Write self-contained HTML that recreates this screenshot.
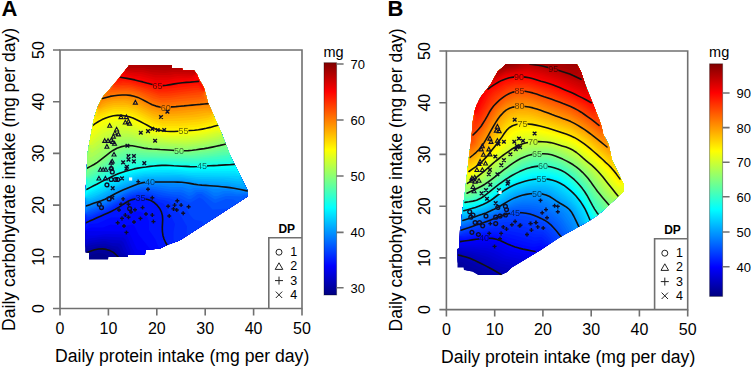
<!DOCTYPE html>
<html><head><meta charset="utf-8"><style>
html,body{margin:0;padding:0;background:#fff;width:751px;height:370px;overflow:hidden}
svg{display:block}
text{font-family:"Liberation Sans",sans-serif;fill:#000}
.tk{font-size:16px}
.ti{font-size:17.6px}
.dp{font-size:12px;font-weight:bold}
.lg{font-size:12.5px}
.cb{font-size:13px}
.mg{font-size:14.5px}
.pl{font-size:22px;font-weight:bold}
.cl{font-size:9px;fill:#000;opacity:.6}
</style></head><body>
<svg width="751" height="370" viewBox="0 0 751 370">
<defs><filter id="bl" x="-20%" y="-20%" width="140%" height="140%"><feGaussianBlur stdDeviation="0.45"/></filter></defs>
<text x="1.6" y="16.3" class="pl">A</text>
<text x="387.6" y="16.2" class="pl">B</text>
<text x="55" y="362.4" class="ti">Daily protein intake (mg per day)</text>
<text x="441" y="363" class="ti">Daily protein intake (mg per day)</text>
<text transform="translate(14.6 331) rotate(-90)" class="ti">Daily carbohydrate intake (mg per day)</text>
<text transform="translate(401.5 331.5) rotate(-90)" class="ti">Daily carbohydrate intake (mg per day)</text>
<defs><clipPath id="ca"><path d="M129.9 65 171.5 65 171.5 68.1 182.3 68.1 182.3 70.8 194.2 70.8 197.4 74.5 199.6 81 203.9 87.4 208.2 102.6 214.7 117.7 222.3 135 230 155 240.2 175 247.8 190.1 247.8 196.7 178.8 241.2 170 244 163 247 160 248.5 145 250.5 145 254.5 127.5 254.5 127.5 257 108 257 108 259.8 89.4 259.8 89.4 252.6 85.9 252.6 85.9 200 87.5 155 89.3 145.5 91.5 133 94.3 119 97.8 108 102 98.2 107.5 91.5 114 84.5 120.5 76.5Z"/></clipPath></defs>
<defs><clipPath id="cb"><path d="M506.9 64.2 576.9 64.2 578.9 67.2 581 72.6 583 78.6 585 84.7 592.4 101.6 601 125.4 603.6 135 608.6 144.8 612.2 160 617.9 171.4 623.6 184.6 624 191.3 614.1 200.7 598.9 214.9 589.6 220.6 580 226.3 561.4 236.8 539.8 250.9 520.3 262.8 510.3 268.8 507.1 272 502.2 274.4 500.6 275.2 478.7 275.2 473.1 272 464.2 270.4 464.2 268 457.9 267.6 457.9 249.1 459.8 249.1 460 241 460.4 230 461.5 224.6 462.4 215.1 463.8 204.3 465.1 193.5 466 185 467.2 175.5 468.5 164.7 469.9 153.9 471.5 140 472.4 130.5 473.4 121.1 475.1 110.3 477.8 103.5 481.2 97.4 486 90 491.4 84 494 78 498.1 71.9 502.8 67.8Z"/></clipPath></defs>
<path fill="#00008d" d="M194 70.5 182.5 70.5 182 68 172 68 171.5 65 129.5 65 117.5 80.5 102 98 97.5 107.5 94 118.5 87.5 153.5 85.5 194.5 85.5 252.5 89 253 89 259.5 108 259.5 108.5 257 127.5 257 128 254.5 145 254.5 145.5 250 160 248.5 168 244.5 179.5 240.5 247.5 196.5 247.5 190 230 155.5 222 134.5 208 103 204 88 200 82 197 74.5Z"/>
<path fill="#000099" d="M194 70.5 182.5 70.5 182 68 172 68 171.5 65 129.5 65 117.5 80.5 102 98 97.5 107.5 94 118.5 87.5 153.5 85.5 194.5 85.5 252.5 89 253 89 257 92 254.5 98 253 104 253.5 109 257 127.5 257 128 254.5 145 254.5 145.5 250 160 248.5 168 244.5 179.5 240.5 247.5 196.5 247.5 190 230 155.5 222 134.5 208 103 204 88 200 82 197 74.5Z"/>
<path fill="#0000a6" d="M194 70.5 182.5 70.5 182 68 172 68 171.5 65 129.5 65 117.5 80.5 102 98 97.5 107.5 94 118.5 87.5 153.5 85.5 194.5 85.5 251.5 89 251.5 97 249 105 249 112.5 252 117.5 257 127.5 257 128 254.5 145 254.5 145.5 250 160 248.5 168 244.5 179.5 240.5 247.5 196.5 247.5 190 230 155.5 222 134.5 208 103 204 88 200 82 197 74.5Z"/>
<path fill="#0000b2" d="M194 70.5 182.5 70.5 182 68 172 68 171.5 65 129.5 65 117.5 80.5 102 98 97.5 107.5 94 118.5 87.5 153.5 85.5 194.5 85.5 247.5 89.5 248.5 99.5 246 107.5 246.5 115.5 249.5 120.5 255.5 127.5 257 128 254.5 145 254.5 145.5 250 160 248.5 168 244.5 179.5 240.5 247.5 196.5 247.5 190 230 155.5 222 134.5 208 103 204 88 200 82 197 74.5Z"/>
<path fill="#0000be" d="M194 70.5 182.5 70.5 182 68 172 68 171.5 65 129.5 65 117.5 80.5 102 98 97.5 107.5 94 118.5 87.5 153.5 85.5 194.5 85.5 246.5 94.5 244.5 105.5 243.5 112.5 246 117.5 246.5 119.5 248.5 121.5 253 126.5 255.5 127.5 257 128 254.5 145 254.5 145.5 250 160 248.5 168 244.5 179.5 240.5 247.5 196.5 247.5 190 230 155.5 222 134.5 208 103 204 88 200 82 197 74.5Z"/>
<path fill="#0000ca" d="M194 70.5 182.5 70.5 182 68 172 68 171.5 65 129.5 65 117.5 80.5 102 98 97.5 107.5 94 118.5 87.5 153.5 85.5 194.5 85.5 245.5 90.5 243 105 241 111.5 243 119.5 243.5 121.5 245.5 123.5 251 127.5 255.5 128 254.5 145 254.5 145.5 250 160 248.5 168 244.5 179.5 240.5 247.5 196.5 247.5 190 230 155.5 222 134.5 208 103 204 88 200 82 197 74.5Z"/>
<path fill="#0000d7" d="M171.5 65 129.5 65 115 83.5 103.5 96 100 102 93.5 120.5 87.5 153.5 85.5 194.5 85.5 244 89 241 102 239 121.5 240.5 123.5 242.5 128.5 254.5 145 254.5 145.5 250 160 248.5 168 244.5 179.5 240.5 247.5 196.5 247.5 190 230 155.5 222 134.5 208 103 204 88 200 82 197 74.5 194 70.5 182.5 70.5 182 68 172 68Z"/>
<path fill="#0000e3" d="M171.5 65 129.5 65 115 83.5 103.5 96 100 102 93.5 120.5 87.5 153.5 85.5 194.5 85.5 239 104 236.5 123.5 237.5 125.5 239.5 131 252 130 254.5 145 254.5 145.5 250 160 248.5 168 244.5 179.5 240.5 247.5 196.5 247.5 190 230 155.5 222 134.5 208 103 204 88 200 82 197 74.5 194 70.5 182.5 70.5 182 68 172 68Z"/>
<path fill="#0000ef" d="M171.5 65 129.5 65 117.5 80.5 102 98 97.5 107.5 93.5 120.5 87.5 153.5 85.5 194.5 85.5 232.5 88 235.5 96 235.5 106 234 125.5 234.5 127.5 236.5 132 248 134.5 252 134.5 253.5 133 254.5 145 254.5 145.5 250 160 248.5 168 244.5 179.5 240.5 247.5 196.5 247.5 190 230 155.5 222 134.5 208 103 204 88 200 82 197 74.5 194 70.5 182.5 70.5 182 68 172 68Z"/>
<path fill="#0000fb" d="M171.5 65 129.5 65 117.5 80.5 103.5 96 100 102 93.5 120.5 87.5 153.5 85.5 194.5 85.5 231 127.5 231.5 130 234 137 249.5 140.5 250.5 142 252 141.5 254.5 145 254.5 145.5 250 160 248.5 168 244.5 179.5 240.5 247.5 196.5 247.5 190 230 155.5 222 134.5 208 103 204 88 200 82 197 74.5 194 70.5 182.5 70.5 182 68 172 68Z"/>
<path fill="#0009ff" d="M129.5 65 117.5 80.5 102 98 97.5 107.5 94 118.5 87.5 153.5 85.5 194.5 85.5 230 91 227.5 103 227.5 110.5 224.5 123.5 226 132.5 224.5 134.5 226 138.5 234.5 150.5 249.5 160 248.5 168 244.5 179.5 240.5 247.5 196.5 247.5 190 230 155.5 222 134.5 208 103 204 88 194.5 71 182.5 70.5 182 68 172 68 171.5 65Z"/>
<path fill="#0015ff" d="M129.5 65 117.5 80.5 102 98 97.5 107.5 94 118.5 87.5 153.5 85.5 194.5 85.5 228 89.5 224 97.5 223.5 111 217.5 121 217.5 131.5 211.5 139.5 211.5 143 213 147.5 217.5 149 221.5 149 230 155.5 239.5 159 248.5 168 244.5 179.5 240.5 247.5 196.5 247.5 190 230 155.5 222 134.5 208 103 204 88 194.5 71 182.5 70.5 182 68 172 68 171.5 65Z"/>
<path fill="#0021ff" d="M129.5 65 117.5 80.5 102 98 97.5 107.5 94 118.5 87.5 153.5 85.5 194.5 85.5 222 93 220 113.5 211 131.5 200.5 136 199.5 146.5 200 155.5 204.5 159 208 161 212 162.5 218 162 229.5 163 235.5 166 244 167.5 245 179.5 240.5 247.5 196.5 247.5 190 230 155.5 222 134.5 208 103 204 88 194.5 71 182.5 70.5 182 68 172 68 171.5 65Z"/>
<path fill="#002dff" d="M129.5 65 117.5 80.5 102 98 97.5 107.5 94 118.5 87.5 153.5 85.5 194.5 85.5 218 87 219.5 90 219 111.5 209.5 126 200.5 133 197.5 146.5 197 150.5 198 156 201 163.5 203.5 166 206.5 168 212 170 214 175 224 173.5 232 173.5 239 174.5 242 179.5 240.5 247.5 196.5 247.5 190 230 155.5 222 134.5 208 103 204 88 194.5 71 182.5 70.5 182 68 172 68 171.5 65Z"/>
<path fill="#003aff" d="M129.5 65 117.5 80.5 102 98 97.5 107.5 94 118.5 87.5 153.5 85.5 194.5 85.5 215.5 87 217.5 90.5 217 108 209.5 124 200 133 196 139 195 148.5 195.5 159 199.5 164 200 170 202 172.5 206 178 211 187 226.5 186.5 234 188 235 247.5 196.5 247.5 190 230 155.5 222 134.5 208 103 204 88 194.5 71 182.5 70.5 182 68 172 68 171.5 65Z"/>
<path fill="#0046ff" d="M129.5 65 117.5 80.5 102 98 97.5 107.5 94 118.5 87.5 153.5 85.5 194.5 85.5 214.5 88.5 216 104.5 209.5 130.5 195.5 139 193.5 147 193.5 154 195 158.5 197 169.5 198.5 176.5 200.5 186 208 190 215 194 219.5 202.5 221.5 203.5 225 247.5 196.5 247.5 190 230 155.5 222 134.5 208 103 204 88 194.5 71 182.5 70.5 182 68 172 68 171.5 65Z"/>
<path fill="#0052ff" d="M129.5 65 117.5 80.5 102 98 97.5 107.5 94 118.5 87.5 153.5 85.5 194.5 85.5 214 88 214.5 104.5 208 129.5 194.5 139 192 149.5 192 163 195.5 178.5 197.5 188.5 202.5 191 202.5 199.5 197.5 203 199.5 212.5 209.5 229 208.5 247.5 196.5 247.5 190 230 155.5 222 134.5 208 103 204 88 194.5 71 182.5 70.5 182 68 172 68 171.5 65Z"/>
<path fill="#005eff" d="M129.5 65 117.5 80.5 102 98 97.5 107.5 94 118.5 87.5 153.5 85.5 194.5 85.5 213.5 104.5 206.5 127.5 194 133 192 143.5 190 151.5 190.5 172 194.5 180.5 195 188 199 191 199 198 194 201.5 194 213.5 202.5 215.5 203 226 199 233.5 199.5 238 202.5 247.5 196.5 247.5 190 230 155.5 222 134.5 208 103 204 88 194.5 71 182.5 70.5 182 68 172 68 171.5 65Z"/>
<path fill="#006bff" d="M129.5 65 117.5 80.5 102 98 97.5 107.5 94 118.5 87.5 153.5 85.5 194.5 85.5 213 90.5 210 104.5 205 124.5 194 135 190 142 188.5 150.5 188.5 171 192 179 192 183.5 193 189 196 192.5 195 196.5 192 202.5 192 215 199.5 226 196 241 196.5 244 195 247.5 195.5 247.5 190 230 155.5 222 134.5 208 103 204 88 194.5 71 182.5 70.5 182 68 172 68 171.5 65Z"/>
<path fill="#0077ff" d="M129.5 65 117.5 80.5 102 98 97.5 107.5 94 118.5 87.5 153.5 85.5 212 89 209 104.5 203.5 126 192 141.5 187 155 187 170.5 189.5 181 189.5 188.5 192.5 191 192.5 195 190 202.5 190 206.5 191 214 196 217.5 196 224.5 193.5 232.5 193.5 236.5 194.5 245 193.5 247.5 194.5 247.5 190 230 155.5 222 134.5 208 103 204 88 194.5 71 182.5 70.5 182 68 172 68 171.5 65Z"/>
<path fill="#0083ff" d="M129.5 65 117.5 80.5 102 98 97.5 107.5 94 118.5 87.5 153.5 85.5 211 88 208 104.5 202 124 191.5 137 186.5 144.5 185 161 185.5 170.5 187 182.5 187 190 189.5 193.5 188 206 188.5 213.5 192.5 219 192.5 223 191 229.5 191 237 192.5 245.5 192.5 247.5 193.5 247.5 190 230 155.5 222 134.5 208 103 204 88 194.5 71 182.5 70.5 182 68 172 68 171.5 65Z"/>
<path fill="#008fff" d="M129.5 65 117.5 80.5 102 98 97.5 107.5 94 118.5 87.5 153.5 85.5 209 88.5 206 104.5 200.5 126.5 189 143.5 183.5 184 184.5 189 186 195 185.5 205.5 186.5 213 189 230 189 240 191 245 191 247.5 192.5 247.5 190 230 155.5 222 134.5 208 103 204 88 194.5 71 182.5 70.5 182 68 172 68 171.5 65Z"/>
<path fill="#009cff" d="M102 98 97.5 107.5 94 118.5 87.5 153.5 85.5 205 103 199.5 123 189 134 184.5 147.5 181.5 183 182 198.5 184.5 227.5 186.5 247 189.5 230 155.5 222 134.5 208 103 204 88 200 82 197 74.5 194 70.5 182.5 70.5 182 68 172 68 171.5 65 129.5 65 117.5 80.5Z"/>
<path fill="#00a8ff" d="M102 98 97.5 107.5 94 118.5 87.5 153.5 85.5 201.5 87 203 102.5 198 121.5 188 135 182.5 146 180 181.5 180 197 182.5 229.5 184.5 243.5 187 244.5 186 244.5 184 230 155.5 222 134.5 208 103 204 88 200 82 197 74.5 194 70.5 182.5 70.5 182 68 172 68 171.5 65 129.5 65 117.5 80.5Z"/>
<path fill="#00b4ff" d="M102 98 97.5 107.5 94 118.5 87.5 153.5 85.5 199.5 87 201 89.5 201 100.5 197 117.5 188 132 182 145.5 178.5 183.5 178.5 195.5 180.5 227 182 238.5 184 242.5 183.5 242.5 180 230 155.5 222 134.5 208 103 204 88 200 82 197 74.5 194 70.5 182.5 70.5 182 68 172 68 171.5 65 129.5 65 117.5 80.5Z"/>
<path fill="#00c0ff" d="M102 98 97.5 107.5 94 118.5 87.5 153.5 85.5 194.5 86 199 89 199.5 93.5 198 122.5 184 137.5 178.5 145.5 177 177 176.5 199.5 179 223 179.5 238 181.5 241 181 241.5 178 230 155.5 222 134.5 208 103 204 88 200 82 197 74.5 194 70.5 182.5 70.5 182 68 172 68 171.5 65 129.5 65 117.5 80.5Z"/>
<path fill="#00cdff" d="M102 98 97.5 107.5 94 118.5 87.5 153.5 85.5 198 89 198 99 194 125.5 181 137 177 145 175.5 179.5 175 196.5 177 227.5 177.5 238 179 241 177 230 155.5 222 134.5 208 103 204 88 200 82 197 74.5 194 70.5 182.5 70.5 182 68 172 68 171.5 65 129.5 65 117.5 80.5Z"/>
<path fill="#00d9ff" d="M102 98 97.5 107.5 94 118.5 87.5 153.5 85.5 197.5 102.5 190.5 118.5 182 136.5 175.5 145 174 168 173 193 175 240.5 176 230 155.5 222 134.5 208 103 204 88 200 82 197 74.5 194 70.5 182.5 70.5 182 68 172 68 171.5 65 129.5 65 117.5 80.5Z"/>
<path fill="#00e5ff" d="M102 98 97.5 107.5 94 118.5 87.5 153.5 85.5 197 88 195 119 180 136 174 144.5 172.5 172.5 171.5 189.5 173 236 173.5 240 175.5 230 155.5 222 134.5 208 103 204 88 200 82 197 74.5 194 70.5 182.5 70.5 182 68 172 68 171.5 65 129.5 65 117.5 80.5Z"/>
<path fill="#00f2ff" d="M102 98 97.5 107.5 94 118.5 87.5 153.5 85.5 196 88.5 193 117 179 132 173.5 141 171.5 154.5 170 176 170 192 171.5 235 171 239.5 174 230 155.5 222 134.5 208 103 204 88 200 82 197 74.5 194 70.5 182.5 70.5 182 68 172 68 171.5 65 129.5 65 117.5 80.5Z"/>
<path fill="#00feff" d="M85.5 195 88 191.5 114 178.5 131.5 172 140.5 170 160.5 168 187 169.5 234 168.5 236 169 238 171 230 155.5 222 134.5 208 103 204 88 200 82 197 74.5 194 70.5 182.5 70.5 182 68 172 68 171.5 65 129.5 65 117.5 80.5 102 98 97.5 107.5 93.5 120.5 87.5 153.5Z"/>
<path fill="#0bfff4" d="M86 191.5 87.5 190 119 174.5 140 168.5 157.5 166.5 170.5 166.5 189.5 168 222 166.5 236 167 230 155.5 222 134.5 208 103 204 88 200 82 197 74.5 194 70.5 182.5 70.5 182 68 172 68 171.5 65 129.5 65 117.5 80.5 102 98 97.5 107.5 93.5 120.5 87.5 153.5Z"/>
<path fill="#17ffe8" d="M86 188 89 187.5 120.5 172 139 167 155.5 165 202 166 234 164 208 103 204 88 200 82 197 74.5 194 70.5 182.5 70.5 182 68 172 68 171.5 65 129.5 65 117.5 80.5 102 98 97.5 107.5 93.5 120.5 87.5 153.5Z"/>
<path fill="#24ffdb" d="M86.5 183.5 88 185.5 90 185 117.5 171 128.5 167 136 165.5 154 163.5 198 164.5 233 161.5 208 103 204 88 200 82 197 74.5 194 70.5 182.5 70.5 182 68 172 68 171.5 65 129.5 65 117.5 80.5 102 98 97.5 107.5 93.5 120.5 87.5 153.5Z"/>
<path fill="#30ffcf" d="M86.5 180 88.5 183 91 182.5 116.5 169 131 164 159.5 161.5 195 163 230.5 160 231.5 159 222 134.5 208 103 204 88 200 82 197 74.5 194 70.5 182.5 70.5 182 68 172 68 171.5 65 129.5 65 117.5 80.5 102 98 97.5 107.5 93.5 120.5 87.5 153.5Z"/>
<path fill="#3cffc3" d="M86.5 179 88.5 180.5 90.5 180.5 122 164 131.5 161.5 156 160 191 161.5 225 158.5 230.5 157 222 134.5 208 103 204 88 200 82 197 74.5 194 70.5 182.5 70.5 182 68 172 68 171.5 65 129.5 65 117.5 80.5 102 98 97.5 107.5 93.5 120.5 87.5 153.5Z"/>
<path fill="#48ffb7" d="M86.5 178.5 90.5 178.5 120.5 162 128.5 159.5 152 158.5 197 159.5 229.5 155.5 230 154.5 222 134.5 208 103 204 88 194.5 71 182.5 70.5 182 68 172 68 171.5 65 129.5 65 115 83.5 103.5 96 97.5 107.5 93.5 120.5 87.5 153.5Z"/>
<path fill="#55ffaa" d="M86.5 177.5 88.5 177.5 100 171.5 119 160 128.5 157 194.5 158 229.5 154 222 134.5 208 103 204 88 194.5 71 182.5 70.5 182 68 172 68 171.5 65 129.5 65 115 83.5 103.5 96 97.5 107.5 93.5 120.5 87.5 153.5Z"/>
<path fill="#61ff9e" d="M86.5 177 115 159.5 126 155 135 154.5 146 155.5 192.5 156.5 211 154.5 224 152 229 152.5 208 103 204 88 194.5 71 182.5 70.5 182 68 172 68 171.5 65 129.5 65 115 83.5 103.5 96 97.5 107.5 93.5 120.5 87.5 153.5Z"/>
<path fill="#6dff92" d="M86.5 176.5 89.5 172.5 100 167 113 158 119.5 154.5 126 152.5 190.5 155 208.5 153 224 150 227 150 228.5 151 208 103 204 88 194.5 71 182.5 70.5 182 68 172 68 171.5 65 129.5 65 115 83.5 103.5 96 97.5 107.5 93.5 120.5 87.5 153.5Z"/>
<path fill="#79ff86" d="M86.5 175 87.5 172.5 90 170 98 166 115 154 126 150 134.5 150 149 152 188.5 153.5 209.5 151 223.5 148 227.5 148.5 208 103 204 88 194.5 71 182.5 70.5 182 68 172 68 171.5 65 129.5 65 115 83.5 103.5 96 97.5 107.5 93.5 120.5 87.5 153.5Z"/>
<path fill="#86ff79" d="M87 170.5 89 168.5 99 163 114.5 151.5 126 147.5 132.5 147.5 146.5 150 186.5 152 207.5 149.5 223 146 226.5 146 208 103 204 88 194.5 71 182.5 70.5 182 68 172 68 171.5 65 129.5 65 115 83.5 103.5 96 97.5 107.5 93.5 120.5 87.5 153.5Z"/>
<path fill="#92ff6d" d="M87 166.5 89.5 166 96.5 162 114.5 148.5 125.5 145 131.5 145 150.5 148.5 173 150 190 150 211 147 225.5 143.5 208 103 204 88 194.5 71 182.5 70.5 182 68 172 68 171.5 65 129.5 65 115 83.5 103.5 96 97.5 107.5 93.5 120.5 87.5 153.5Z"/>
<path fill="#9eff61" d="M87.5 157 89 161.5 91 161.5 98.5 157 112 146.5 122.5 142.5 131.5 142.5 150 146.5 185 148.5 213.5 144.5 223.5 142 224 139.5 208 103 204 88 200 82 197 74.5 194 70.5 182.5 70.5 182 68 172 68 171.5 65 129.5 65 115 83.5 103.5 96 100 102 93.5 120.5Z"/>
<path fill="#aaff55" d="M88.5 148 89.5 157 91 157.5 97 154 111.5 143 121.5 139.5 129.5 139.5 142.5 143 155 145 186 146.5 206 144 221.5 140.5 223 139 223 137 208 103 204 88 200 82 197 74.5 194 70.5 182.5 70.5 182 68 172 68 171.5 65 129.5 65 115 83.5 103.5 96 100 102 94 118.5Z"/>
<path fill="#b7ff48" d="M89 146.5 90.5 152 92 153 108.5 141 120.5 136.5 131 137 142 140.5 155 143 186 144.5 203 142.5 219.5 139 221.5 137.5 222 134.5 208 103 204 88 200 82 197 74.5 194 70.5 182.5 70.5 182 68 172 68 171.5 65 129.5 65 115 83.5 103.5 96 100 102 93.5 120.5Z"/>
<path fill="#c3ff3c" d="M89 145.5 91.5 148.5 93 148.5 109 137 119 133.5 127.5 133.5 149 140 171.5 142.5 186 142.5 200 141 219 137 222 134.5 208 103 204 88 200 82 197 74.5 194 70.5 182.5 70.5 182 68 172 68 171.5 65 129.5 65 117.5 80.5 102 98 97.5 107.5 94 118.5Z"/>
<path fill="#cfff30" d="M89 145 92.5 145 106 135 118 130.5 127 130.5 150 138 169 140.5 186 140.5 196.5 139.5 213 136.5 220.5 134.5 221.5 133.5 208 103 204 88 200 82 197 74.5 194 70.5 182.5 70.5 182 68 172 68 171.5 65 129.5 65 117.5 80.5 102 98 97.5 107.5 94 118.5Z"/>
<path fill="#dbff24" d="M89.5 144 90.5 144 95 139 104 132.5 116.5 127.5 129 128 150.5 136 166.5 138.5 186.5 138.5 203.5 136.5 217.5 133 221.5 133.5 208 103 204 88 200 82 197 74.5 194 70.5 182.5 70.5 182 68 172 68 171.5 65 129.5 65 117.5 80.5 102 98 97.5 107.5 94 118.5Z"/>
<path fill="#e8ff17" d="M89.5 143.5 92 138 101 130.5 110 126 119 124 130.5 125.5 151.5 134 165 136.5 192.5 136 208.5 133.5 217 131 221 132.5 208 103 204 88 200 82 197 74.5 194 70.5 182.5 70.5 182 68 172 68 171.5 65 129.5 65 117.5 80.5 102 98 97.5 107.5 94 118.5Z"/>
<path fill="#f4ff0b" d="M90.5 138.5 92.5 133.5 100.5 127 107.5 123.5 117 121 122.5 121 130.5 122.5 150.5 131.5 163.5 134.5 173.5 135 192.5 134 208.5 131.5 217 129 220.5 131 208 103 204 88 200 82 197 74.5 194 70.5 182.5 70.5 182 68 172 68 171.5 65 129.5 65 117.5 80.5 102 98 97.5 107.5 94 118.5Z"/>
<path fill="#fffe00" d="M92 130 95.5 126.5 101 123 107.5 120 115.5 118 128.5 119 154 130.5 168 133 197.5 131.5 217 127 219 127.5 208 103 204 88 200 82 197 74.5 194 70.5 182.5 70.5 182 68 172 68 171.5 65 129.5 65 117.5 80.5 102 98 96 112Z"/>
<path fill="#fff200" d="M93 123.5 94 124 103.5 118.5 110.5 116 121 115 131 117 152 127.5 163 130.5 175.5 131 196.5 129.5 205.5 128 217.5 124.5 208 103 204 88 194.5 71 182.5 70.5 182 68 172 68 171.5 65 129.5 65 117.5 80.5 102 98 97.5 107.5Z"/>
<path fill="#ffe500" d="M94.5 117 94.5 119.5 96.5 120 109.5 114 114 113 124 113 133.5 115.5 153 125.5 165 128.5 179 128.5 197.5 127 214 123.5 215.5 122 215.5 119.5 208 103 204 88 194.5 71 182.5 70.5 182 68 172 68 171.5 65 129.5 65 117.5 80.5 102 98 97.5 107.5Z"/>
<path fill="#ffd900" d="M96.5 110.5 96.5 117 111.5 111.5 124.5 111 134 113.5 154 123.5 164 126 179 126 197.5 124.5 212.5 121.5 214 120 214 116 208 103 204 88 194.5 71 182.5 70.5 182 68 172 68 171.5 65 129.5 65 117.5 80.5 102 98Z"/>
<path fill="#ffcd00" d="M97 109 98 114 114 109 128.5 109.5 137 112.5 153.5 121 163 123.5 179 123.5 200.5 121.5 212 119 213.5 115.5 208 103 204 88 194.5 71 182.5 70.5 182 68 172 68 171.5 65 129.5 65 117.5 80.5 102 98Z"/>
<path fill="#ffc000" d="M97 109 99 111.5 100.5 111.5 105.5 109 114 107 126.5 107 135.5 109.5 153 118.5 162 121 179 121 197 119.5 209 117.5 213 114.5 208 103 204 88 194.5 71 182.5 70.5 182 68 172 68 171.5 65 129.5 65 117.5 80.5 102 98Z"/>
<path fill="#ffb400" d="M97 109 100.5 109.5 104 107.5 114 105 127 105 136 107.5 154 116.5 166 119 196.5 117 209.5 115 213 113.5 208 103 204 88 194.5 71 182.5 70.5 182 68 172 68 171.5 65 129.5 65 117.5 80.5 102 98Z"/>
<path fill="#ffa800" d="M97.5 107.5 97.5 108.5 99.5 108.5 107 104.5 114 103 123 102.5 135.5 105 153.5 114 164.5 116.5 191 115 207.5 112.5 212.5 113 208 103 204 88 194.5 71 182.5 70.5 182 68 172 68 171.5 65 129.5 65 115 83.5 103.5 96Z"/>
<path fill="#ff9c00" d="M97.5 107.5 99 107.5 102 104.5 107 102.5 114 101 124.5 100.5 135 102.5 150.5 110.5 162.5 114 179 113.5 204.5 110.5 209.5 110.5 212.5 112.5 208 103 204 88 194.5 71 182.5 70.5 182 68 172 68 171.5 65 129.5 65 115 83.5 103.5 96Z"/>
<path fill="#ff8f00" d="M98 106.5 98.5 107 102 102.5 105 101 114 99 125.5 98.5 137 101 150 108 161 111.5 173 111.5 208.5 108 211.5 110.5 208 103 204 88 194.5 71 182.5 70.5 182 68 172 68 171.5 65 129.5 65 115 83.5 103.5 96Z"/>
<path fill="#ff8300" d="M100 102 103.5 99.5 111 97.5 126.5 96.5 137.5 99 149.5 105.5 160 109 173.5 109 207.5 105.5 210 107 207.5 101.5 204 88 194.5 71 182.5 70.5 182 68 172 68 171.5 65 129.5 65 115 83.5 103.5 96Z"/>
<path fill="#ff7700" d="M103.5 96 103.5 97 120.5 94.5 130.5 95 139 97.5 153.5 105 162 107 196 104.5 208 102.5 204 88 194.5 71 182.5 70.5 182 68 172 68 171.5 65 129.5 65 115 83.5Z"/>
<path fill="#ff6b00" d="M106.5 93 107 94.5 118 93 132 93.5 137.5 95 151.5 102 159.5 104.5 171 104.5 202.5 101.5 205.5 100.5 206 99.5 204 88 194.5 71 182.5 70.5 182 68 172 68 171.5 65 129.5 65Z"/>
<path fill="#ff5e00" d="M109 91 109.5 92 126 91 135 92.5 153 100.5 160.5 102.5 168 102.5 203 99 204 98 204 94 205 93 204 88 200 82 197 74.5 194 70.5 182.5 70.5 182 68 172 68 171.5 65 129.5 65Z"/>
<path fill="#ff5200" d="M111 88.5 111.5 90 127.5 89.5 139 92 153.5 98.5 162.5 100.5 201 97 205 92 203 86 194 70.5 182.5 70.5 182 68 172 68 171.5 65 129.5 65Z"/>
<path fill="#ff4600" d="M112 86.5 113 88 116 88.5 129 88 134 89 159.5 98 169 98 182 96 200.5 94.5 205 91.5 197 74.5 194 70.5 182.5 70.5 182 68 172 68 171.5 65 129.5 65Z"/>
<path fill="#ff3a00" d="M113 85.5 114 86.5 118 87 122.5 86 132.5 87 160.5 96 166.5 96 204.5 91.5 204 88 200 82 197 74.5 194 70.5 182.5 70.5 182 68 172 68 171.5 65 129.5 65Z"/>
<path fill="#ff2d00" d="M113.5 85 130.5 85 142.5 88 158 93.5 169 93.5 197 90 204.5 91 203 86 194 70.5 182.5 70.5 182 68 172 68 171.5 65 129.5 65Z"/>
<path fill="#ff2100" d="M114.5 84 116.5 83 120.5 83.5 123 82.5 131.5 83.5 159 91.5 167 91.5 193.5 88 199 88 202.5 90.5 204.5 90.5 204 88 200 82 197 74.5 194 70.5 182.5 70.5 182 68 172 68 171.5 65 129.5 65Z"/>
<path fill="#ff1500" d="M116 82 122.5 81 129.5 81.5 159.5 89.5 197 85.5 199 86 202.5 89.5 204.5 90 198.5 79 197 74.5 194 70.5 182.5 70.5 182 68 172 68 171.5 65 129.5 65Z"/>
<path fill="#ff0900" d="M118 79.5 121 80 124 79 130.5 80 157 87 167.5 87 181.5 84.5 198 83.5 204 89 198.5 79 197 74.5 194 70.5 182.5 70.5 182 68 172 68 171.5 65 129.5 65Z"/>
<path fill="#fb0000" d="M120 77 136.5 79.5 157.5 85 165.5 85 179 82.5 194.5 81.5 199 80 197 74.5 194 70.5 182.5 70.5 182 68 172 68 171.5 65 129.5 65Z"/>
<path fill="#ef0000" d="M123 73 123 74.5 125.5 76 139 78 156 82.5 167 82.5 177 80.5 193.5 79.5 197 75 194 70.5 182.5 70.5 182 68 172 68 171.5 65 129.5 65Z"/>
<path fill="#e30000" d="M124 72 125.5 74 135.5 76 140 76 155.5 80 168 80 175 78.5 191 78 196.5 74.5 194 70.5 182.5 70.5 182 68 172 68 171.5 65 129.5 65Z"/>
<path fill="#d70000" d="M125 70.5 126.5 72.5 141 74 155.5 77.5 169.5 77.5 177.5 76 187 76.5 192 76 196 74 194 70.5 182.5 70.5 182 68 172 68 171.5 65 129.5 65Z"/>
<path fill="#ca0000" d="M125 70.5 135 72 142 72 155 75 170.5 75 174.5 74 193 74.5 196 73 194 70.5 182.5 70.5 182 68 172 68 171.5 65 129.5 65Z"/>
<path fill="#be0000" d="M126 69.5 143 70 151 72 165 73 172 72 195.5 72.5 194 70.5 182.5 70.5 182 68 172 68 171.5 65 129.5 65Z"/>
<path fill="#b20000" d="M127 68 144 68 150.5 69.5 165 70.5 182 69.5 182 68 172 68 171.5 65 129.5 65Z"/>
<path fill="#a60000" d="M138.5 65 141 66 155.5 67.5 171.5 67.5 171.5 65Z"/>
<path fill="#00009a" d="M576.5 64 506.5 64 497.5 72 491.5 83.5 480.5 97.5 475 109.5 472.5 123.5 471.5 141.5 469.5 152 466 187 462 213.5 461.5 225 460 229.5 459.5 248.5 457.5 249 457.5 267.5 463.5 267.5 464 270 472.5 271.5 478.5 275 500.5 275 507 272 512 267 540.5 250 560.5 236.5 588 221.5 598.5 214.5 624 191 623.5 184 612 160.5 608.5 144.5 603 134 599.5 120.5 585 85 581 72Z"/>
<path fill="#0000a2" d="M576.5 64 506.5 64 497.5 72 491.5 83.5 480.5 97.5 475 109.5 473 120 471.5 141.5 469.5 152 466 187 462 213.5 461.5 225 460 229.5 459.5 248.5 457.5 249 457.5 262.5 464 267 466.5 270.5 472.5 271.5 478.5 275 500.5 275 507 272 512 267 540.5 250 560.5 236.5 588 221.5 598.5 214.5 624 191 623.5 184 612 160.5 608.5 144.5 603 134 599.5 120.5 585 85 581 72Z"/>
<path fill="#0000a9" d="M576.5 64 506.5 64 497.5 72 491.5 83.5 480.5 97.5 475 109.5 472.5 123.5 471.5 141.5 469.5 152 466 187 462 213.5 461.5 225 460 229.5 459.5 248.5 457.5 249 457.5 261.5 462.5 262 468 266 481 271.5 484.5 275 500.5 275 507 272 512 267 540.5 250 560.5 236.5 588 221.5 598.5 214.5 624 191 623.5 184 612 160.5 608.5 144.5 603 134 599.5 120.5 585 85 581 72Z"/>
<path fill="#0000b1" d="M576.5 64 506.5 64 497.5 72 491.5 83.5 480.5 97.5 475 109.5 472.5 123.5 471.5 141.5 469.5 152 466 187 462 213.5 461.5 225 460 229.5 459.5 248.5 457.5 249 457.5 260 459.5 258.5 465 259.5 478 266.5 489 270.5 492.5 272.5 494.5 275 500.5 275 507 272 512 267 540.5 250 560.5 236.5 588 221.5 598.5 214.5 624 191 623.5 184 612 160.5 608.5 144.5 603 134 599.5 120.5 585 85 581 72Z"/>
<path fill="#0000b9" d="M576.5 64 506.5 64 497.5 72 491.5 83.5 480.5 97.5 475 109.5 473 120 471.5 141.5 469.5 152 466 187 462 213.5 461.5 225 460 229.5 459.5 248.5 457.5 249 457.5 255.5 465 256.5 473 259.5 493.5 269.5 500.5 275 507 272 512 267 540.5 250 560.5 236.5 588 221.5 598.5 214.5 624 191 623.5 184 612 160.5 608.5 144.5 603 134 599.5 120.5 585 85 581 72Z"/>
<path fill="#0000c0" d="M576.5 64 506.5 64 497.5 72 491.5 83.5 480.5 97.5 475 109.5 472.5 123.5 471.5 141.5 469.5 152 466 187 462 213.5 461.5 225 460 229.5 459.5 248.5 457.5 249 457.5 251.5 458.5 253 472 256.5 479.5 259.5 498 269 503 270.5 508.5 270 512 267 540.5 250 560.5 236.5 588 221.5 598.5 214.5 624 191 623.5 184 612 160.5 608.5 144.5 603 134 599.5 120.5 585 85 581 72Z"/>
<path fill="#0000c8" d="M576.5 64 506.5 64 497.5 72 491.5 83.5 480.5 97.5 475 109.5 472.5 123.5 471.5 141.5 469.5 152 466 187 462 213.5 461.5 225 460 229.5 459.5 248.5 457.5 249 460 252 474 255 489 260.5 500 266.5 510 268.5 540.5 250 560.5 236.5 588 221.5 598.5 214.5 624 191 623.5 184 612 160.5 608.5 144.5 603 134 599.5 120.5 585 85 581 72Z"/>
<path fill="#0000d0" d="M576.5 64 506.5 64 497.5 72 491.5 83.5 480.5 97.5 475 109.5 472.5 123.5 471.5 141.5 469.5 152 466 187 462 213.5 461.5 225 460 229.5 459.5 248.5 458 249 460 250.5 474.5 253 488 257 500.5 263.5 509.5 265.5 511 268 540.5 250 560.5 236.5 588 221.5 598.5 214.5 624 191 623.5 184 612 160.5 608.5 144.5 603 134 599.5 120.5 585 85 581 72Z"/>
<path fill="#0000d7" d="M576.5 64 506.5 64 497.5 72 491.5 83.5 480.5 97.5 475 109.5 472.5 123.5 471.5 141.5 469.5 152 466 187 462 213.5 461.5 225 460 229.5 460 249 486.5 253.5 501 260.5 512.5 263 514 264.5 513.5 266.5 540.5 250 560.5 236.5 588 221.5 598.5 214.5 624 191 623.5 184 612 160.5 608.5 144.5 603 134 599.5 120.5 585 85 581 72Z"/>
<path fill="#0000df" d="M576.5 64 506.5 64 497.5 72 491.5 83.5 480.5 97.5 475 109.5 472.5 123.5 471.5 141.5 469.5 152 466 187 462 213.5 461.5 225 460 229.5 460 248 476.5 249 485.5 250.5 493.5 253 504 258.5 515.5 260.5 520 262.5 560.5 236.5 588 221.5 598.5 214.5 624 191 623.5 184 612 160.5 608.5 144.5 603 134 599.5 120.5 585 85 581 72Z"/>
<path fill="#0000e7" d="M576.5 64 506.5 64 497.5 72 491.5 83.5 480.5 97.5 475 109.5 472.5 123.5 471.5 141.5 469.5 152 466 187 462 213.5 461.5 225 460 229.5 459.5 247 468.5 246.5 487 248 495 250.5 506 256 520 259 525.5 259 560.5 236.5 588 221.5 598.5 214.5 624 191 623.5 184 612 160.5 608.5 144.5 603 134 599.5 120.5 585 85 581 72Z"/>
<path fill="#0000ee" d="M576.5 64 506.5 64 497.5 72 491.5 83.5 480.5 97.5 475 109.5 472.5 123.5 471.5 141.5 469.5 152 466 187 462 213.5 461.5 225 460 229.5 459.5 246 462 245 488.5 245.5 496.5 248 508 253.5 526.5 257 527.5 258 560.5 236.5 588 221.5 598.5 214.5 624 191 623.5 184 612 160.5 608.5 144.5 603 134 599.5 120.5 585 85 581 72Z"/>
<path fill="#0000f6" d="M576.5 64 506.5 64 497.5 72 491.5 83.5 480.5 97.5 475 109.5 472.5 123.5 471.5 141.5 469.5 152 466 187 462 213.5 461.5 225 460 229.5 460 244.5 462 243.5 490 243 497 245 510 251 526.5 254.5 529 257 560.5 236.5 588 221.5 598.5 214.5 624 191 623.5 184 612 160.5 608.5 144.5 603 134 599.5 120.5 585 85 581 72Z"/>
<path fill="#0000fd" d="M576.5 64 506.5 64 497.5 72 491.5 83.5 480.5 97.5 475 109.5 472.5 123.5 471.5 141.5 469.5 152 466 187 462 213.5 461.5 225 460 229.5 460 243 462.5 242 477.5 240.5 491.5 240.5 498.5 242.5 510 248 531 253 532 254 530.5 256 560.5 236.5 588 221.5 598.5 214.5 624 191 623.5 184 612 160.5 608.5 144.5 603 134 599.5 120.5 585 85 581 72Z"/>
<path fill="#0006ff" d="M506.5 64 497.5 72 491.5 83.5 480.5 97.5 475 109.5 472.5 123.5 471.5 141.5 469.5 152 466 187 462 213.5 461.5 225 460 229.5 460 241 483.5 238 492 238 499.5 240 510.5 245 529.5 250 534.5 250 538 248.5 542 249 560.5 236.5 588 221.5 598.5 214.5 624 191 623.5 184 612 160.5 608.5 144.5 603 134 601 124.5 585 85 581 72 577 64.5Z"/>
<path fill="#000eff" d="M506.5 64 497.5 72 491.5 83.5 480.5 97.5 475 109.5 472.5 123.5 471.5 141.5 469.5 152 466 187 462 213.5 461.5 225 460 229.5 460 239 465 239.5 481.5 236.5 492.5 236 500 237.5 510 241.5 528.5 246.5 535 247 540 245.5 544 247 560.5 236.5 588 221.5 598.5 214.5 624 191 623.5 184 612 160.5 608.5 144.5 603 134 601 124.5 585 85 581 72 577 64.5Z"/>
<path fill="#0015ff" d="M506.5 64 497.5 72 491.5 83.5 480.5 97.5 475 109.5 472.5 123.5 471.5 141.5 469.5 152 466 187 462 213.5 461.5 225 460 229.5 460 237.5 463.5 238.5 485 234.5 497 234.5 533 244 541 243 543.5 245 548 245 560.5 236.5 588 221.5 598.5 214.5 624 191 623.5 184 612 160.5 608.5 144.5 603 134 601 124.5 585 85 581 72 577 64.5Z"/>
<path fill="#001dff" d="M506.5 64 497.5 72 491.5 83.5 480.5 97.5 475 109.5 472.5 123.5 471.5 141.5 469.5 152 466 187 462 213.5 461.5 225 460 229.5 460 236.5 465 237 488 232.5 499.5 232.5 513 235 535 241 541.5 240 545.5 243.5 548.5 244.5 560.5 236.5 588 221.5 598.5 214.5 624 191 623.5 184 612 160.5 608.5 144.5 603 134 601 124.5 585 85 581 72 577 64.5Z"/>
<path fill="#0025ff" d="M506.5 64 497.5 72 491.5 83.5 480.5 97.5 475 109.5 472.5 123.5 471.5 141.5 469.5 152 466 187 462 213.5 461.5 225 460 229.5 460 236 464 236 490.5 230.5 506 230.5 520 233 534.5 237.5 541.5 237 549.5 244 560.5 236.5 588 221.5 598.5 214.5 624 191 623.5 184 612 160.5 608.5 144.5 603 134 601 124.5 585 85 581 72 577 64.5Z"/>
<path fill="#002cff" d="M506.5 64 497.5 72 491.5 83.5 480.5 97.5 475 109.5 472.5 123.5 471.5 141.5 469.5 152 466 187 462 213.5 461.5 225 460 229.5 460 235.5 488.5 229 496.5 228 510.5 228 520.5 229.5 536.5 234.5 542.5 234.5 547.5 238.5 550 243.5 560.5 236.5 588 221.5 598.5 214.5 624 191 623.5 184 612 160.5 608.5 144.5 603 134 601 124.5 585 85 581 72 577 64.5Z"/>
<path fill="#0034ff" d="M506.5 64 497.5 72 491.5 83.5 480.5 97.5 475 109.5 472.5 123.5 471.5 141.5 469.5 152 466 187 462 213.5 461.5 225 460 229.5 460 235 465 233 492.5 226.5 502.5 225 514 225 525.5 227 538 231.5 543 231.5 551 239 551 243 560.5 236.5 588 221.5 598.5 214.5 624 191 623.5 184 612 160.5 608.5 144.5 603 134 601 124.5 585 85 581 72 577 64.5Z"/>
<path fill="#003cff" d="M506.5 64 497.5 72 491.5 83.5 480.5 97.5 475 109.5 472.5 123.5 471.5 141.5 469.5 152 468.5 166 460 234 466 231.5 497 223.5 505.5 222 517.5 222 528 224 545 229.5 553.5 238.5 552 242.5 560.5 236.5 588 221.5 598.5 214.5 624 191 623.5 184 612 160.5 608.5 144.5 603 134 601 124.5 585 85 581 72 577 64.5Z"/>
<path fill="#0043ff" d="M506.5 64 497.5 72 491.5 83.5 480.5 97.5 475 109.5 472.5 123.5 471.5 141.5 469.5 152 468.5 166 460 233 463.5 231 498 221 507 219 516.5 218.5 530.5 221 546 227 555.5 237 556 238.5 555 240.5 560.5 236.5 588 221.5 598.5 214.5 624 191 623.5 184 612 160.5 608.5 144.5 603 134 601 124.5 585 85 581 72 577 64.5Z"/>
<path fill="#004bff" d="M506.5 64 497.5 72 491.5 83.5 480.5 97.5 475 109.5 472.5 123.5 471.5 141.5 469.5 152 466 187 462 213.5 461.5 225 460 232 463 230 502 217.5 511 215.5 521.5 215.5 529.5 217 545.5 223.5 554.5 232 558 236.5 558 238.5 588 221.5 598.5 214.5 624 191 623.5 184 612 160.5 608.5 144.5 603 134 601 124.5 585 85 581 72 577 64.5Z"/>
<path fill="#0052ff" d="M506.5 64 497.5 72 491.5 83.5 480.5 97.5 475 109.5 472.5 123.5 471.5 141.5 469.5 152 466 187 462 213.5 461.5 225 460 229.5 475 225.5 507 214 514.5 212.5 522.5 212.5 534 215 545.5 220.5 555.5 229.5 561 236.5 588 221.5 601.5 212 624 191 623.5 184 612 160.5 608.5 144.5 603 134 601 124.5 585 85 581 72 577 64.5Z"/>
<path fill="#005aff" d="M506.5 64 497.5 72 491.5 83.5 480.5 97.5 475 109.5 472.5 123.5 471.5 141.5 469.5 152 466 187 462 213.5 461.5 225 460.5 227.5 465.5 227.5 508.5 212 516.5 210.5 524 210.5 537 213.5 546 218 551 221.5 563.5 235 588 221.5 601.5 212 624 191 623.5 184 612 160.5 608.5 144.5 603 134 601 124.5 585 85 581 72 577 64.5Z"/>
<path fill="#0062ff" d="M506.5 64 497.5 72 491.5 83.5 480.5 97.5 475 109.5 472.5 123.5 471.5 141.5 469.5 152 461 226.5 464 227 486.5 219.5 509 210.5 516 209 528.5 209 538.5 211.5 548 216.5 556.5 223.5 564.5 233.5 566.5 233.5 588 221.5 601.5 212 624 191 623.5 184 612 160.5 608.5 144.5 603 134 601 124.5 585 85 581 72 577 64.5Z"/>
<path fill="#0069ff" d="M506.5 64 497.5 72 491.5 83.5 480.5 97.5 475 109.5 472.5 123.5 471.5 141.5 469.5 152 468.5 166 461 225.5 464 226 484 219.5 511.5 208.5 520.5 207 528 207 538.5 209 547.5 213.5 554 218 559.5 223.5 563.5 229.5 566 232 568 232.5 588 221.5 601.5 212 624 191 623.5 184 612 160.5 608.5 144.5 603 134 601 124.5 585 85 581 72 577 64.5Z"/>
<path fill="#0071ff" d="M506.5 64 497.5 72 491.5 83.5 480.5 97.5 475 109.5 472.5 123.5 471.5 141.5 469.5 152 466 187 462 213.5 461.5 225 464.5 225 481.5 219.5 510.5 207.5 519 205.5 527.5 205 538 206.5 548.5 211.5 556.5 217 561 221.5 566.5 230 569 232 588 221.5 601.5 212 624 191 623.5 184 612 160.5 608.5 144.5 603 134 601 124.5 585 85 581 72 577 64.5Z"/>
<path fill="#0079ff" d="M506.5 64 497.5 72 491.5 83.5 480.5 97.5 475 109.5 472.5 123.5 471.5 141.5 469.5 152 466 187 462 213.5 461.5 224.5 486 217 514 205 521.5 203.5 534.5 203.5 543.5 206 558.5 215.5 562.5 219.5 570 231.5 588 221.5 598.5 214.5 624 191 623.5 184 612 160.5 609 146 603 134 599.5 120.5 585 85 581 72 576.5 64Z"/>
<path fill="#0080ff" d="M506.5 64 497.5 72 491.5 83.5 480.5 97.5 475 109.5 472.5 123.5 471.5 141.5 469.5 152 466 187 462 213.5 461.5 224 487.5 215.5 514 203.5 523.5 201.5 536 201.5 542.5 203 547.5 205.5 560.5 214 570.5 228 571 231 588 221.5 598.5 214.5 624 191 623.5 184 612 160.5 608.5 144.5 603 134 601 124.5 585 85 581 72 576.5 64Z"/>
<path fill="#0088ff" d="M506.5 64 497.5 72 491.5 83.5 480.5 97.5 475 109.5 472.5 123.5 471.5 141.5 469.5 152 461.5 223 486.5 215 515.5 201.5 525 199.5 537.5 199.5 547 202.5 563 213 571 224.5 572.5 228 572 230.5 598.5 214.5 624 191 623.5 184 612 160.5 608.5 144.5 603 134 601 124.5 585 85 581 72 576.5 64Z"/>
<path fill="#0090ff" d="M506.5 64 497.5 72 491.5 83.5 480.5 97.5 475 109.5 472.5 123.5 471.5 141.5 469.5 152 461.5 222.5 488 213.5 514 200.5 523 198 533 197 545 199 563 210 568 215 574 226 574 228.5 573 230 598.5 214.5 624 191 623.5 184 612 160.5 608.5 144.5 603 134 601 124.5 585 85 581 72 576.5 64Z"/>
<path fill="#0097ff" d="M506.5 64 497.5 72 491.5 83.5 480.5 97.5 475 109.5 472.5 123.5 471.5 141.5 469.5 152 468.5 166 461.5 221 487 213 516.5 198 527 195.5 536.5 195 547.5 197.5 565 208.5 570.5 214.5 576 225 576.5 228 598.5 214.5 624 191 623.5 184 612 160.5 608.5 144.5 603 134 601 124.5 585 85 581 72 576.5 64Z"/>
<path fill="#009fff" d="M506.5 64 497.5 72 491.5 83.5 480.5 97.5 475 109.5 472.5 123.5 471.5 141.5 469.5 152 466 187 462 213.5 462 219.5 466.5 219 487 212 499.5 206 508 200.5 519.5 195.5 529 193.5 541.5 193.5 551 197 566.5 207 572.5 214 579 226.5 598.5 214.5 624 191 623.5 184 612 160.5 608.5 144.5 603 134 601 124.5 585 85 581 72 576.5 64Z"/>
<path fill="#00a6ff" d="M506.5 64 497.5 72 491.5 83.5 480.5 97.5 475 109.5 472.5 123.5 471.5 141.5 469.5 152 462 218 465 218.5 486 211.5 496.5 206.5 515.5 195.5 526 192.5 539.5 191.5 547 193 552 195.5 568.5 206.5 573.5 212.5 579 224 581.5 225 588 221.5 601.5 212 624 191 623.5 184 612 160.5 608.5 144.5 603 134 601 124.5 585 85 581 72 576.5 64Z"/>
<path fill="#00aeff" d="M506.5 64 497.5 72 491.5 83.5 480.5 97.5 475 109.5 472.5 123.5 471.5 141.5 469.5 152 468.5 166 462 216.5 465 217.5 485 211 494.5 206.5 509.5 197 516 194 526.5 191 540 190 550 192.5 566.5 203 573.5 210 579.5 222 581 223.5 583.5 224 601.5 212 624 191 623.5 184 612 160.5 608.5 144.5 603 134 601 124.5 585 85 581 72 576.5 64Z"/>
<path fill="#00b6ff" d="M506.5 64 497.5 72 491.5 83.5 480.5 97.5 475 109.5 472.5 123.5 471.5 141.5 469.5 152 468.5 166 462 216 465.5 216.5 488.5 208.5 515 193 527 189.5 540 188.5 549.5 190.5 567 201.5 574.5 209 581 222 584.5 223.5 601.5 212 624 191 623.5 184 612 160.5 608.5 144.5 603 134 601 124.5 585 85 581 72 576.5 64Z"/>
<path fill="#00bdff" d="M506.5 64 497.5 72 491.5 83.5 480.5 97.5 475 109.5 472.5 123.5 471.5 141.5 469.5 152 468.5 166 462 215 467.5 215 487.5 208 497.5 202.5 507.5 195.5 515.5 191.5 528 188 539.5 187 547 188 553.5 190.5 570 202 575.5 208 582 221 584.5 223.5 601.5 212 624 191 623.5 184 612 160.5 608.5 144.5 603 134 601 124.5 585 85 581 72 576.5 64Z"/>
<path fill="#00c5ff" d="M506.5 64 497.5 72 491.5 83.5 480.5 97.5 475 109.5 472.5 123.5 471.5 141.5 469.5 152 466 187 462 214.5 466 214.5 487.5 207 498 201 507 194.5 516 190 528.5 186.5 539 185.5 545 186 552 188 565.5 196.5 576 206.5 584.5 223 588 221.5 598.5 214.5 624 191 623.5 184 612 160.5 608.5 144.5 603 134 601 124.5 578 66 576.5 64Z"/>
<path fill="#00cdff" d="M506.5 64 497.5 72 491.5 83.5 480.5 97.5 475 109.5 472.5 123.5 471.5 141.5 469.5 152 466 187 462 214 474.5 211 487.5 206 506.5 193.5 516.5 188.5 532.5 184.5 545.5 184.5 552.5 186.5 558.5 189.5 570.5 198.5 579 208.5 584 218.5 585 222.5 588 221.5 598.5 214.5 624 191 623.5 184 612 160.5 608.5 144.5 603 134 601 124.5 578 66 576.5 64Z"/>
<path fill="#00d4ff" d="M506.5 64 497.5 72 491.5 83.5 480.5 97.5 475 109.5 472.5 123.5 471.5 141.5 469.5 152 466 187 462 213.5 486.5 205.5 506 192.5 517 187 533 183 546 183 557.5 187 570 196 575.5 201.5 580.5 208.5 585 217.5 586 222.5 598.5 214.5 624 191 623.5 184 612 160.5 608.5 144.5 603 134 601 124.5 578 66 576.5 64Z"/>
<path fill="#00dcff" d="M506.5 64 497.5 72 491.5 83.5 480.5 97.5 475 109.5 472.5 123.5 471.5 141.5 469.5 152 468.5 166 462.5 212.5 485.5 205 495.5 199 505.5 191.5 517.5 185.5 533.5 181.5 546 181.5 552.5 183 560 186.5 569.5 193.5 576.5 200.5 580.5 206 586.5 218 586.5 222 598.5 214.5 624 191 623.5 184 612 160.5 608.5 144.5 603 134 601 124.5 578 66 576.5 64Z"/>
<path fill="#00e4ff" d="M506.5 64 497.5 72 491.5 83.5 480.5 97.5 475 109.5 472.5 123.5 471.5 141.5 469.5 152 468.5 166 462.5 211 467 210.5 483.5 205 490 201.5 507.5 189 519.5 183.5 534 180 546.5 180 555.5 182.5 561.5 185.5 569 191 576.5 198.5 582 206 587.5 217 588 221.5 598.5 214.5 624 191 623.5 184 612 160.5 608.5 144.5 603 134 601 124.5 578 66 576.5 64Z"/>
<path fill="#00ebff" d="M506.5 64 497.5 72 491.5 83.5 480.5 97.5 475 109.5 472.5 123.5 471.5 141.5 469.5 152 463 209.5 467.5 209.5 481.5 205 488.5 201.5 505.5 189 517.5 183 535 178.5 546 178.5 557 181.5 562 184 570 190 580 201 584.5 208 590 220 601.5 212 624 191 623.5 184 612 160.5 608.5 144.5 603 134 601 124.5 578 66 576.5 64Z"/>
<path fill="#00f3ff" d="M506.5 64 497.5 72 491.5 83.5 480.5 97.5 475 109.5 472.5 123.5 471.5 141.5 469.5 152 468.5 166 463 208 464.5 209 468 208.5 483 203.5 491.5 198.5 507 187 517 182 533 177.5 545 177 557 180 569 187.5 579.5 198.5 584.5 206 590.5 218 592.5 218.5 601.5 212 624 191 623.5 184 612 160.5 608.5 144.5 603 134 601 124.5 578 66 576.5 64Z"/>
<path fill="#00faff" d="M506.5 64 497.5 72 491.5 83.5 480.5 97.5 475 109.5 472.5 123.5 471.5 141.5 469.5 152 468.5 166 463 207 466.5 208 483.5 202.5 504.5 187.5 519.5 180 534.5 176 547.5 176 559 179.5 569 186 580 197.5 585 205 590 215.5 592.5 218 601.5 212 624 191 623.5 184 612 160.5 608.5 144.5 603 134 601 124.5 578 66 576.5 64Z"/>
<path fill="#03fffc" d="M506.5 64 497.5 72 491.5 83.5 480.5 97.5 475 109.5 472.5 123.5 471.5 141.5 469.5 152 466 187 463 206.5 467.5 207 479.5 203.5 489.5 198 506 185.5 520.5 178.5 533 175 546 174.5 557.5 177.5 569.5 185 580 196 586.5 206 590.5 214.5 593 217.5 594 217.5 601.5 212 624 191 623.5 184 612 160.5 608.5 144.5 603 134 601 124.5 578 66 576.5 64Z"/>
<path fill="#0bfff4" d="M506.5 64 497.5 72 491.5 83.5 480.5 97.5 475 109.5 472.5 123.5 471.5 141.5 469.5 152 466 187 463 206 468.5 206 474.5 204.5 486 199.5 503 186.5 516.5 179 531.5 174 543.5 173 557 176 570 184 581.5 196.5 594 217.5 601.5 212 624 191 623.5 184 612 160.5 608.5 144.5 603 134 601 124.5 578 66 576.5 64Z"/>
<path fill="#12ffed" d="M506.5 64 497.5 72 491.5 83.5 480.5 97.5 475 109.5 472.5 123.5 471.5 141.5 469.5 152 463.5 205 467 205.5 475.5 203.5 484.5 199.5 506 183.5 518.5 177 533 172.5 547 172 559 175.5 570.5 183 582 195.5 594 217 595.5 216.5 624 191 623.5 184 612 160.5 608.5 144.5 603 134 601 124.5 578 66 576.5 64Z"/>
<path fill="#1affe5" d="M506.5 64 497.5 72 491.5 83.5 480.5 97.5 475 109.5 472.5 123.5 471.5 141.5 469.5 152 463.5 204.5 473 203.5 484 199 506 182.5 519.5 175.5 534 171 545 170.5 557.5 173.5 563.5 176.5 571.5 182.5 582 194 588 203.5 594.5 216.5 595.5 216.5 624 191 623.5 184 612 160.5 608.5 144.5 603 134 601 124.5 578 66 576.5 64Z"/>
<path fill="#22ffdd" d="M506.5 64 497.5 72 491.5 83.5 480.5 97.5 475 109.5 472.5 123.5 471.5 141.5 469.5 152 468.5 166 463.5 203.5 466.5 204 472 203 483.5 198.5 506 181.5 521.5 173.5 535.5 169.5 547.5 169.5 560.5 173.5 572 181.5 582.5 193 594 212.5 595.5 216.5 624 191 623.5 184 612 160.5 608.5 144.5 603 134 601 124.5 578 66 576.5 64Z"/>
<path fill="#29ffd6" d="M506.5 64 497.5 72 491.5 83.5 480.5 97.5 475 109.5 472.5 123.5 471.5 141.5 469.5 152 468.5 166 463.5 202.5 471 202.5 483 198 503 182.5 521 172.5 534 168.5 545.5 168 559 171.5 572.5 180.5 584 193.5 595 212.5 595.5 216 597 215.5 624 191 623.5 184 612 160.5 608.5 144.5 603 134 601 124.5 578 66 576.5 64Z"/>
<path fill="#31ffce" d="M506.5 64 497.5 72 491.5 83.5 480.5 97.5 475 109.5 472.5 123.5 471.5 141.5 469.5 152 464 201.5 469.5 202 481.5 198 503 181.5 520.5 171.5 535.5 167 548 167 558.5 170 566 174 573 179.5 583 190.5 595 210.5 597 215.5 624 191 623.5 184 612 160.5 608.5 144.5 603 134 601 124.5 578 66 576.5 64Z"/>
<path fill="#38ffc7" d="M506.5 64 497.5 72 491.5 83.5 480.5 97.5 475 109.5 472.5 123.5 471.5 141.5 469.5 152 468.5 166 464 200 467 201.5 470.5 201 481.5 197 501.5 181.5 511.5 175 522.5 169.5 534 166 546 165.5 552 166.5 561.5 170 573.5 178.5 583.5 189.5 594.5 208.5 599 214 624 191 623.5 184 612 160.5 608.5 144.5 603 134 601 124.5 578 66 576.5 64Z"/>
<path fill="#40ffbf" d="M506.5 64 497.5 72 491.5 83.5 480.5 97.5 475 109.5 472.5 123.5 471.5 141.5 469.5 152 468.5 166 464 199 466.5 200.5 469 200.5 476.5 198.5 481.5 196 505 178 523 168 535.5 164.5 548 164.5 562 169 573.5 177 585.5 190.5 597 210 598.5 211.5 602 211.5 624 191 623.5 184 612 160.5 608.5 144.5 603 134 601 124.5 578 66 576.5 64Z"/>
<path fill="#48ffb7" d="M506.5 64 497.5 72 491.5 83.5 480.5 97.5 475 109.5 472.5 123.5 471.5 141.5 469.5 152 464.5 198 466.5 199.5 469.5 199.5 480.5 195.5 503.5 178 522.5 167 534 163.5 546 163 559 166.5 566 170 574 176 585 188 597.5 208.5 599 210 603 210.5 624 191 623.5 184 612 160.5 608.5 144.5 603 134 601 124.5 578 66 576.5 64Z"/>
<path fill="#4fffb0" d="M506.5 64 497.5 72 491.5 83.5 480.5 97.5 475 109.5 472.5 123.5 471.5 141.5 469.5 152 464.5 197.5 466.5 198.5 470 198.5 481 194 502 178 512.5 171 522 166 535.5 162 548 162 559.5 165.5 568 170 574.5 175 587 189 598.5 207.5 600 209 603.5 210 624 191 623.5 184 612 160.5 608.5 144.5 603 134 601 124.5 578 66 576.5 64Z"/>
<path fill="#57ffa8" d="M506.5 64 497.5 72 491.5 83.5 480.5 97.5 475 109.5 472.5 123.5 471.5 141.5 469.5 152 464.5 196.5 466 197.5 470 197.5 479 194 504 175.5 522.5 164.5 534 161 545.5 160.5 551.5 161.5 560 164.5 566 167.5 574.5 173.5 585 184.5 598 204.5 603.5 210 624 191 623.5 184 612 160.5 608.5 144.5 603 134 601 124.5 578 66 576.5 64Z"/>
<path fill="#5fffa0" d="M506.5 64 497.5 72 491.5 83.5 480.5 97.5 475 109.5 472.5 123.5 471.5 141.5 469.5 152 464.5 196 467.5 197 479.5 192.5 507.5 172 522 163.5 532.5 160 547.5 159.5 560.5 163.5 575 172.5 586 184 596.5 200 604 209.5 624 191 623.5 184 612 160.5 608.5 144.5 603 134 601 124.5 585 85 581 72 577 64.5Z"/>
<path fill="#66ff99" d="M506.5 64 497.5 72 491.5 83.5 480.5 97.5 475 109.5 472.5 123.5 471.5 141.5 469.5 152 465 195 467.5 196 470 195.5 481 190.5 509.5 169.5 522.5 162 534 158.5 545.5 158 553 159.5 562 163 575.5 171.5 587 183.5 604.5 209 624 191 623.5 184 612 160.5 608.5 144.5 603 134 601 124.5 585 85 581 72 577 64.5Z"/>
<path fill="#6eff91" d="M506.5 64 497.5 72 491.5 83.5 480.5 97.5 475 109.5 472.5 123.5 471.5 141.5 469.5 152 465 194 467.5 195 470 194.5 481.5 189 510 168 523 160.5 532.5 157.5 547.5 157 556.5 159.5 564.5 163 573.5 168.5 579.5 173.5 589 184.5 603.5 204.5 605 208.5 624 191 623.5 184 612 160.5 608.5 144.5 603 134 601 124.5 585 85 581 72 577 64.5Z"/>
<path fill="#76ff89" d="M506.5 64 497.5 72 491.5 83.5 480.5 97.5 475 109.5 472.5 123.5 471.5 141.5 469.5 152 465 193 467.5 194 470 193.5 479.5 189 489 183 509 167.5 523.5 159 534 156 545 155.5 553 157 559.5 159.5 576 169 587 180 604.5 203.5 605.5 208 624 191 623.5 184 612 160.5 608.5 144.5 603 134 601 124.5 585 85 581 72 577 64.5Z"/>
<path fill="#7dff82" d="M506.5 64 497.5 72 491.5 83.5 480.5 97.5 475 109.5 472.5 123.5 471.5 141.5 469.5 152 465 192 468 193 481 187 489.5 181.5 511.5 164.5 524 157.5 532.5 155 547 154.5 560 158.5 571.5 164.5 579.5 170.5 588 179.5 599 195 607 205 607 207 624 191 623.5 184 612 160.5 608.5 144.5 603 134 601 124.5 585 85 581 72 577 64.5Z"/>
<path fill="#85ff7a" d="M506.5 64 497.5 72 491.5 83.5 480.5 97.5 475 109.5 472.5 123.5 471.5 141.5 469.5 152 465.5 190.5 468 192 480 186.5 488 181.5 511 163.5 521 157.5 529 154.5 543.5 153 551 154 559.5 157 569.5 162 577 167 587 176.5 603 198 609.5 204.5 624 191 623.5 184 612 160.5 608.5 144.5 603 134 601 124.5 585 85 581 72 577 64.5Z"/>
<path fill="#8cff73" d="M506.5 64 497.5 72 491.5 83.5 480.5 97.5 475 109.5 472.5 123.5 471.5 141.5 469.5 152 465.5 189.5 467 190.5 469.5 190.5 481.5 184.5 510.5 162.5 523.5 155 532.5 152.5 546.5 152 553.5 153.5 563.5 157.5 577.5 166 588.5 176.5 603.5 196.5 610.5 203 612 202.5 624 191 623.5 184 612 160.5 608.5 144.5 603 134 601 124.5 585 85 581 72 577 64.5Z"/>
<path fill="#94ff6b" d="M506.5 64 497.5 72 491.5 83.5 480.5 97.5 475 109.5 472.5 123.5 471.5 141.5 469.5 152 465.5 188.5 467 189.5 469.5 189.5 482 183 510.5 161 521.5 154.5 534.5 151 548 151 562 155.5 570 159.5 580.5 167 590 176.5 603.5 194.5 612 202.5 624 191 623.5 184 612 160.5 608.5 144.5 603 134 601 124.5 585 85 581 72 577 64.5Z"/>
<path fill="#9cff63" d="M506.5 64 497.5 72 491.5 83.5 480.5 97.5 475 109.5 472.5 123.5 471.5 141.5 469.5 152 465.5 188 469.5 188.5 482.5 181.5 508.5 161 523 152.5 532.5 150 545 149.5 551.5 150.5 561.5 154 569 157.5 578 163.5 589 173.5 606 195.5 613 201.5 624 191 623.5 184 612 160.5 608.5 144.5 603 134 601 124.5 585 85 581 72 577 64.5Z"/>
<path fill="#a3ff5c" d="M497.5 72 491.5 83.5 480.5 97.5 475 109.5 472.5 123.5 471.5 141.5 469.5 152 466 187 469.5 187.5 480.5 181.5 508.5 159.5 522 151.5 534.5 148.5 547 148.5 554 150 567 155 578.5 162.5 591.5 174.5 606 193.5 614 200.5 624 191 623.5 184 612 160.5 608.5 144.5 603 134 601 124.5 585 85 581 72 577 64.5 506.5 64Z"/>
<path fill="#abff54" d="M497.5 72 491.5 83.5 480.5 97.5 475 109.5 472.5 123.5 471.5 141.5 469.5 152 466 186 469.5 186.5 481 180 500.5 164 518 152 529 148 543 147 551 148 560.5 151 575 158.5 584.5 166 593.5 175 606.5 192 611 196.5 615.5 199 624 191 623.5 184 612 160.5 608.5 144.5 603 134 601 124.5 585 85 581 72 577 64.5 506.5 64Z"/>
<path fill="#b3ff4c" d="M497.5 72 491.5 83.5 480.5 97.5 475 109.5 472.5 123.5 471.5 141.5 469.5 152 466 185 469.5 185.5 477.5 181 505 159 514.5 152.5 521.5 149 530 146.5 545.5 146 553.5 147.5 564 151 575 157 591.5 171 610.5 194.5 616 198.5 624 191 623.5 184 612 160.5 608.5 144.5 603 134 601 124.5 585 85 581 72 577 64.5 506.5 64Z"/>
<path fill="#baff45" d="M499.5 70 495 76 491.5 83.5 480.5 97.5 475 109.5 472.5 123.5 471.5 141.5 469.5 152 466 184 469.5 184.5 476.5 180.5 505 157.5 520.5 148 531.5 145 547 145 563.5 149.5 575 155.5 594.5 172.5 612.5 194.5 616.5 198 624 191 623.5 184 612 160.5 608.5 144.5 603 134 601 124.5 585 85 581 72 577 64.5 506.5 64Z"/>
<path fill="#c2ff3d" d="M499.5 70 495 76 491.5 83.5 480.5 97.5 475 109.5 472.5 123.5 471.5 141.5 469.5 152 466.5 183 469.5 183.5 480.5 176.5 498.5 161 516.5 148.5 529.5 144 544.5 143.5 555 145.5 565.5 149 575 154 588.5 165 597 173.5 609.5 189.5 617 197.5 624 191 623.5 184 612 160.5 608.5 144.5 603 134 601 124.5 585 85 581 72 577 64.5 506.5 64Z"/>
<path fill="#caff35" d="M499.5 70 495 76 491.5 83.5 480.5 97.5 475 109.5 472.5 123.5 471.5 141.5 469.5 152 466.5 181.5 468 182.5 470.5 182 479.5 176 501 157.5 517.5 146.5 525.5 143.5 531 142.5 546.5 142.5 566.5 148 575 152.5 588.5 163.5 599 174 617.5 196.5 619.5 195.5 624 191 623.5 184 612 160.5 608.5 144.5 603 134 601 124.5 585 85 581 72 577 64.5 506.5 64Z"/>
<path fill="#d1ff2e" d="M499.5 70 495 76 491.5 83.5 480.5 97.5 475 109.5 472.5 123.5 471.5 141.5 469.5 152 466.5 180 467.5 181 470 181 483.5 171.5 501 156 514.5 146.5 522 143 528 141.5 544 141 561.5 145 575 151 592.5 165.5 601.5 175 612 188.5 618.5 195.5 619.5 195.5 624 191 623.5 184 612 160.5 608.5 144.5 603 134 601 124.5 585 85 581 72 577 64.5 506.5 64Z"/>
<path fill="#d9ff26" d="M499.5 70 495 76 491.5 83.5 480.5 97.5 475 109.5 472.5 123.5 471.5 141.5 466.5 178.5 468 180 470 180 475.5 176.5 503.5 152.5 518.5 142.5 530.5 139.5 547 140 568 146 577 151 592 163.5 601 172.5 612 186.5 620.5 194.5 624 191 623.5 184 612 160.5 608.5 144.5 603 134 601 124.5 585 85 581 72 577 64.5 506.5 64Z"/>
<path fill="#e0ff1f" d="M497.5 72 491.5 83.5 480.5 97.5 475 109.5 472.5 123.5 471.5 141.5 469.5 152 467 178 469.5 179 476 175 498 155.5 515.5 142 522.5 139 528 138 541.5 138 558.5 141.5 574 147.5 592 162 603.5 173.5 611.5 184 621.5 193.5 624 191 623.5 184 612 160.5 608.5 144.5 603 134 599.5 120.5 585 85 581 72 576.5 64 506.5 64Z"/>
<path fill="#e8ff17" d="M497.5 72 491.5 83.5 480.5 97.5 475 109.5 472.5 123.5 471.5 141.5 469.5 152 467 177 470.5 177.5 478.5 172 502 150.5 517.5 138.5 522 137 530.5 136 541.5 136.5 558 140 574.5 146.5 595.5 163.5 605.5 174 613.5 184.5 619.5 189 622 192.5 624 191 623.5 184 612 160.5 608.5 144.5 603 134 599.5 120.5 585 85 581 72 576.5 64 506.5 64Z"/>
<path fill="#f0ff0f" d="M497.5 72 491.5 83.5 480.5 97.5 475 109.5 472.5 123.5 471.5 141.5 469.5 152 467 176 470 176.5 477 172 504.5 146.5 516 137 525.5 134.5 537 134.5 550 136.5 568 142 576 146 595 161.5 605 171.5 617 186 624 189 623.5 184 612 160.5 609 146 603 134 599.5 120.5 585 85 581 72 576.5 64 506.5 64Z"/>
<path fill="#f7ff08" d="M497.5 72 491.5 83.5 480.5 97.5 475 109.5 472.5 123.5 471.5 141.5 467 175 470 175.5 480 168.5 512.5 137 515.5 135 522 133 532.5 132.5 544.5 134 555 136.5 574 143.5 579.5 147 594.5 159.5 607.5 172.5 616.5 184 620 186 623.5 185 619.5 175 612 160.5 608.5 144.5 603 134 599.5 120.5 585 85 581 72 576.5 64 506.5 64Z"/>
<path fill="#ffff00" d="M497.5 72 491.5 83.5 480.5 97.5 475 109.5 472.5 123.5 471.5 141.5 467 174.5 469.5 174.5 472.5 173 481 166.5 514 133.5 521.5 131 535 131 554.5 135 567 139 575.5 143 584.5 149.5 599 162 607 170 618 183.5 620 184.5 623.5 184 612 160.5 608.5 144.5 603 134 599.5 120.5 585 85 581 72 576.5 64 506.5 64Z"/>
<path fill="#fff700" d="M497.5 72 491.5 83.5 480.5 97.5 475 109.5 472.5 123.5 471.5 141.5 469.5 152 467.5 173 471.5 172.5 482 164.5 512.5 132 521.5 129 531.5 129 542 130.5 566.5 137.5 576 142 582 146 598 159.5 609.5 171 618 182 620.5 183.5 623 183.5 612 160.5 608.5 144.5 603 134 599.5 120.5 585 85 581 72 576.5 64 506.5 64Z"/>
<path fill="#fff000" d="M497.5 72 491.5 83.5 480.5 97.5 475 109.5 472.5 123.5 471.5 141.5 469.5 152 467.5 172 472 171 484.5 161 510.5 131 518.5 127.5 529 127 550 131 566 136 575 140 584.5 146.5 597.5 157.5 608.5 168 617 179 620.5 182.5 622.5 182.5 612 160.5 608.5 144.5 603 134 599.5 120.5 585 85 581 72 576.5 64 506.5 64Z"/>
<path fill="#ffe800" d="M497.5 72 491.5 83.5 480.5 97.5 475 109.5 472.5 123.5 471.5 141.5 467.5 170.5 472 170 481 163 490 153.5 510 129 516 126 526 125 540 127 553 130.5 569.5 136 576.5 139.5 589.5 149 602 160 622.5 182 612 160.5 608.5 144.5 603 134 599.5 120.5 585 85 581 72 576.5 64 506.5 64Z"/>
<path fill="#ffe000" d="M497.5 72 491.5 83.5 480.5 97.5 475 109.5 472.5 123.5 471.5 141.5 468 166.5 468 168.5 469 169.5 471.5 169 476.5 165.5 487.5 155 505 131.5 509.5 127 518 123.5 529.5 123.5 546 127 566.5 133.5 574.5 137 589.5 147.5 601 157.5 617.5 174.5 619.5 175.5 612 160.5 608.5 144.5 603 134 599.5 120.5 585 85 581 72 576.5 64 506.5 64Z"/>
<path fill="#ffd900" d="M476.5 105.5 474.5 111.5 472.5 123.5 471.5 141.5 468 166.5 469 168 471 168 475.5 165 487 154 504 130.5 509.5 125 516.5 122 527 121.5 546 125.5 567.5 132.5 576 136.5 596 151.5 615 170 616.5 169.5 612 160.5 609 146 603 134 599.5 120.5 585 85 581 72 576.5 64 506.5 64 497.5 72 491.5 83.5 481.5 96Z"/>
<path fill="#ffd100" d="M476.5 105.5 473 120 471.5 141.5 469 156.5 468.5 166 470 167 477 162.5 486.5 153 505.5 126.5 510.5 122.5 517 120 529 120 537 121.5 572 133 589 144 613 166 614 165.5 612 160.5 608.5 144.5 603 134 599.5 120.5 585 85 581 72 576.5 64 506.5 64 497.5 72 491.5 83.5 481.5 96Z"/>
<path fill="#ffca00" d="M476.5 105.5 474.5 111.5 472.5 123.5 471.5 141.5 468.5 165 469.5 165.5 474 163.5 482 156.5 492 144 501 130 506 124 512.5 119.5 519 118 526 118 535 119.5 569.5 130.5 576.5 134 587 141 602 153.5 611 162.5 612.5 163 608.5 144.5 603 134 599.5 120.5 585 85 581 72 576.5 64 506.5 64 497.5 72 491.5 83.5 481.5 96Z"/>
<path fill="#ffc200" d="M476.5 105.5 474.5 111.5 472.5 123.5 471.5 141.5 468.5 164 469.5 164.5 476 160.5 485 151.5 504 124 510 119 517 116.5 528 116.5 533.5 117.5 570.5 129.5 587 139.5 610.5 160 611.5 159.5 608.5 144.5 603 134 599.5 120.5 585 85 581 72 576.5 64 506.5 64 497.5 72 491.5 83.5 481.5 96Z"/>
<path fill="#ffba00" d="M475 109.5 472.5 123.5 471.5 141.5 468.5 163.5 471.5 162.5 475.5 159.5 484.5 150.5 499.5 127.5 506.5 119.5 512 116 518.5 114.5 529.5 115 538 117 571.5 128.5 589.5 140 609 157 611 156 608.5 144.5 603 134 599.5 120.5 585 85 581 72 576.5 64 506.5 64 497.5 72 491.5 83.5 480.5 97.5Z"/>
<path fill="#ffb300" d="M475 109.5 472.5 123.5 471.5 141.5 468.5 162.5 475 158.5 483.5 150 502 122 510 115 516.5 113 530.5 113.5 569 126 585.5 135.5 600 147 608.5 155 611 155 609 146 603 134 599.5 120.5 585 85 581 72 576.5 64 506.5 64 497.5 72 491.5 83.5 480.5 97.5Z"/>
<path fill="#ffab00" d="M475 109.5 472.5 123.5 471.5 141.5 469.5 152 469 161 474.5 157.5 483 149 500.5 121.5 508.5 114 518 111 525 111 535.5 113 570 125 587.5 135.5 602.5 147.5 609 154 610.5 154 609 146 603 134 599.5 120.5 585 85 581 72 576.5 64 506.5 64 497.5 72 491.5 83.5 480.5 97.5Z"/>
<path fill="#ffa300" d="M475 109.5 472.5 123.5 471.5 141.5 469 159.5 474 156.5 482 148.5 502 117.5 507.5 112.5 516 109.5 527 109.5 536 111.5 571 124 586 133 602 145.5 610.5 153.5 609 146 603 134 599.5 120.5 585 85 581 72 576.5 64 506.5 64 497.5 72 491.5 83.5 480.5 97.5Z"/>
<path fill="#ff9c00" d="M475 109.5 472.5 123.5 471.5 141.5 469 157.5 473.5 155.5 481.5 147.5 500.5 117 508.5 110 518 107.5 528.5 108 536.5 110 572 123 592 136 604.5 146 610 152 609 146 603 134 599.5 120.5 585 85 581 72 576.5 64 506.5 64 497.5 72 491.5 83.5 480.5 97.5Z"/>
<path fill="#ff9400" d="M469.5 156 473 154.5 481 146.5 495 122.5 500 115.5 508 108.5 516.5 106 526 106 533.5 107.5 568.5 120 576.5 124 588 131.5 609.5 148 603 134 601 124.5 585 85 581 72 577 64.5 506.5 64 497.5 72 491.5 83.5 481.5 96 476.5 105.5 474.5 111.5 472.5 123.5 471.5 141.5Z"/>
<path fill="#ff8c00" d="M469.5 154 470.5 154.5 472.5 153.5 480 146 494 122 500 113.5 507 107.5 515.5 104.5 526.5 104.5 533.5 106 569.5 119 579 124 603 142 606 143 606.5 140.5 603 134 601 124.5 585 85 581 72 577 64.5 506.5 64 497.5 72 491.5 83.5 481.5 96 476.5 105.5 473 120 471.5 141.5Z"/>
<path fill="#ff8500" d="M469.5 152.5 472 152.5 479.5 145 481.5 140.5 498.5 113.5 507 106 515.5 103 526.5 103 533.5 104.5 569.5 117.5 579 122.5 602.5 140 604.5 140.5 605 138.5 603 134 601 124.5 585 85 581 72 577 64.5 506.5 64 497.5 72 491.5 83.5 481.5 96 476.5 105.5 473 120 471.5 141.5Z"/>
<path fill="#ff7d00" d="M470 151 472 151 477.5 146 480 140.5 493 119.5 500 110 507 104.5 515.5 101.5 526.5 101.5 533.5 103 569.5 116 579 121 600.5 137 603 138 603.5 134.5 601 124.5 585 85 581 72 577 64.5 506.5 64 497.5 72 491.5 83.5 481.5 96 476.5 105.5 473 120Z"/>
<path fill="#ff7600" d="M470 149.5 472.5 149.5 477 145 479.5 139 498 110.5 505.5 104 515.5 100 526.5 100 533.5 101.5 569.5 114.5 586.5 124.5 600 135 602.5 135.5 603 132.5 601 124.5 585 85 581 72 577 64.5 506.5 64 497.5 72 491.5 83.5 481.5 96 476.5 105.5 473 120 471.5 141.5Z"/>
<path fill="#ff6e00" d="M470 148.5 472 148.5 476 144.5 478.5 138 486.5 127 496.5 110.5 505.5 102.5 515.5 98.5 526.5 98.5 531.5 99.5 564.5 111 579 118 600 133.5 603 133.5 599.5 120.5 585 85 581 72 577 64.5 506.5 64 497.5 72 491.5 83.5 481.5 96 476.5 105.5 473 120 471.5 141.5Z"/>
<path fill="#ff6600" d="M470.5 148 475.5 143.5 477 138 486.5 125 495 110.5 505.5 101 515.5 97 521.5 96.5 531.5 98 569.5 111.5 588 122.5 600 132 603 132.5 601 124.5 585 85 581 72 577 64.5 506.5 64 497.5 72 491.5 83.5 481.5 96 476.5 105.5 474.5 111.5 472.5 123.5Z"/>
<path fill="#ff5f00" d="M470.5 147 474.5 143 476.5 136.5 481.5 130.5 491 114.5 496.5 107 505.5 99.5 515 95.5 522 95 531.5 96.5 569.5 110 581.5 116.5 602.5 132 599.5 120.5 585 85 581 72 577 64.5 506.5 64 497.5 72 491.5 83.5 481.5 96 476.5 105.5 473 120Z"/>
<path fill="#ff5700" d="M470.5 146 474 142 475.5 135.5 483 126.5 494.5 107.5 500 102 508 96.5 513 94.5 519 93.5 527 94 535 96 569.5 108.5 584.5 117 602.5 131 601 124.5 585 85 581 72 577 64.5 506.5 64 497.5 72 491.5 83.5 481.5 96 476.5 105.5 473 120Z"/>
<path fill="#ff4f00" d="M471 144 473 141.5 474 135.5 482 126 493 107.5 500.5 100 507 95.5 513 93 519 92 527 92.5 535 94.5 569.5 107 586 116.5 602 129 593 103.5 585 85 581 72 577 64.5 506.5 64 497.5 72 491.5 83.5 481.5 96 476.5 105.5 473 120Z"/>
<path fill="#ff4800" d="M471 143 473.5 134 480.5 126 493.5 105 498.5 100 506 94.5 515 91 522.5 90.5 531.5 92 569.5 105.5 582.5 112.5 601.5 126.5 585 85 581 72 577 64.5 506.5 64 497.5 72 491.5 83.5 481.5 96 476.5 105.5 473 120Z"/>
<path fill="#ff4000" d="M472 134 481.5 122.5 493 103.5 498 98.5 509.5 91 519.5 89 533 91 560.5 100.5 578.5 108.5 595.5 120.5 599.5 122 599.5 120.5 585 85 581 72 576.5 64 506.5 64 497.5 72 491.5 83.5 481.5 96 476.5 105.5 473 120Z"/>
<path fill="#ff3800" d="M472.5 129 473.5 129.5 479.5 123 489 107 498 96.5 507 90.5 515 88 526 88 531 89 556.5 97.5 578.5 107 595.5 118.5 596.5 118 596.5 113 585 85 581 72 576.5 64 506.5 64 497.5 72 491.5 83.5 480.5 97.5 475 109.5Z"/>
<path fill="#ff3100" d="M474 121.5 474.5 125 478.5 122 489.5 104 495.5 96.5 503 91 509 88 515 86.5 528.5 87 552.5 94.5 578.5 105.5 593.5 115.5 595 115.5 596 111.5 585 85 581 72 576.5 64 506.5 64 497.5 72 491.5 83.5 480.5 97.5 475 109.5Z"/>
<path fill="#ff2900" d="M474 115.5 475.5 117.5 475 121 476.5 121.5 481.5 115.5 491.5 98.5 495.5 94.5 507.5 87 515 85 525 85 540.5 89 574.5 102 584.5 107.5 593 113.5 596 111.5 585 85 581 72 576.5 64 506.5 64 497.5 72 491.5 83.5 480.5 97.5 475 109.5Z"/>
<path fill="#ff2200" d="M474 115 476 116.5 476.5 118.5 479.5 116 490.5 97.5 495.5 92.5 506 86 515 83.5 527.5 84 543.5 88.5 572 99.5 582 104.5 592.5 111.5 594.5 111.5 595.5 110 585 85 581 72 576.5 64 506.5 64 497.5 72 491.5 83.5 480.5 97.5 475 109.5Z"/>
<path fill="#ff1a00" d="M474 114.5 476.5 115.5 479 114.5 489 97 493.5 92 504.5 85 515.5 82 529.5 83 549.5 89 573 98.5 585.5 105 593.5 110.5 595.5 110 585 85 581 72 576.5 64 506.5 64 497.5 72 491.5 83.5 480.5 97.5 476.5 105.5Z"/>
<path fill="#ff1200" d="M474.5 114 478 113.5 485 102.5 488 96 493 90.5 506.5 82.5 516 80.5 529.5 81.5 555 89.5 574 97.5 588 105 593 109 595 109 585 85 581 72 576.5 64 506.5 64 497.5 72 491.5 83.5 480.5 97.5 475 109.5Z"/>
<path fill="#ff0b00" d="M474.5 113.5 478 111.5 487 95 491 90 505 81.5 516.5 79 529 80 557.5 89 581 99.5 590 104.5 595 109 585 85 581 72 576.5 64 506.5 64 497.5 72 491.5 83.5 480.5 97.5 476.5 105.5Z"/>
<path fill="#ff0300" d="M474.5 113 477.5 110.5 486 94 490.5 88.5 505 80 512.5 78 526 78 544.5 83 571.5 93.5 593.5 105 585 85 581 72 576.5 64 506.5 64 497.5 72 491.5 83.5 480.5 97.5 476.5 105.5Z"/>
<path fill="#fa0000" d="M474.5 112 476 111 486 91 488.5 88 503 79.5 515.5 76.5 528 77 544.5 81.5 566 89.5 587 100 592 101 585 85 581 72 576.5 64 506.5 64 497.5 72 491.5 83.5 480.5 97.5 476.5 105.5Z"/>
<path fill="#f30000" d="M481.5 96 476.5 105.5 475 110.5ZM490 85 492 85 498 81 506.5 77 524 75 532.5 76.5 558 84.5 585.5 97.5 590.5 97.5 585 85 581 72 576.5 64 506.5 64 497.5 72Z"/>
<path fill="#eb0000" d="M491.5 83 492.5 83.5 506.5 76 519.5 74 527 74 557 82.5 572.5 89 584 95 588 95 588 91.5 585 85 581 72 576.5 64 506.5 64 497.5 72Z"/>
<path fill="#e40000" d="M492 82 492.5 82.5 505 75.5 525.5 72.5 540 75.5 559 81.5 584 93 586 93 587 90 581 72 576.5 64 506.5 64 497.5 72Z"/>
<path fill="#dc0000" d="M492.5 81 493 81.5 500 77 507 74 522 71.5 528.5 71.5 540 74 559.5 80 583.5 91 585 91 586.5 89 581 72 576.5 64 506.5 64 497.5 72Z"/>
<path fill="#d40000" d="M493 80 505.5 73.5 527.5 70 542 73 560 78.5 583.5 89 586.5 88 581 72 576.5 64 506.5 64 497.5 72Z"/>
<path fill="#cd0000" d="M493.5 79 506 72.5 517.5 71 524 69 530 69 540.5 71 557.5 76 569.5 80.5 580.5 86 586 87.5 581 72 576.5 64 506.5 64 497.5 72Z"/>
<path fill="#c50000" d="M494.5 77 504.5 72 529 67.5 538.5 69 559.5 75 583 84.5 586 86.5 581 72 576.5 64 506.5 64 497.5 72Z"/>
<path fill="#bd0000" d="M496 74.5 498 74.5 507 70.5 515.5 69.5 526 66.5 532 66.5 540.5 68 560 73.5 580 82 583 82 585 84 581 72 576.5 64 506.5 64 499.5 70Z"/>
<path fill="#b60000" d="M497 73 497.5 73.5 507.5 69.5 515.5 68.5 527.5 65 532.5 65 559 71.5 579 79.5 583 78.5 581 72 576.5 64 506.5 64Z"/>
<path fill="#ae0000" d="M536 64 548.5 68 561 70 572 74 577 74 580 70.5 576.5 64ZM497.5 72.5 504 69.5 518 67 525 64 506.5 64Z"/>
<path fill="#a60000" d="M541 64 546.5 66.5 564 68 572 70.5 576.5 69 578.5 67 576.5 64ZM498 71.5 504 68.5 518 66 521 64 506.5 64Z"/>
<path fill="#9f0000" d="M565 65 572.5 67 577.5 66 576.5 64 566 64ZM543 64 546.5 65.5 559 65.5 551 64ZM501.5 68.5 514 66 519.5 64 506.5 64Z"/>
<path fill="#970000" d="M504 66 509 66 517.5 64 506.5 64Z"/>
<path fill="#900000" d="M506 64.5 508 65 513 64Z"/>
<defs><mask id="mca" maskUnits="userSpaceOnUse" x="0" y="0" width="751" height="370"><rect width="751" height="370" fill="#fff"/><rect x="152.6" y="81" width="10" height="10" fill="#000"/><rect x="160.8" y="102.5" width="10" height="10" fill="#000"/><rect x="178.4" y="126" width="10" height="10" fill="#000"/><rect x="174" y="146" width="10" height="10" fill="#000"/><rect x="197" y="161" width="10" height="10" fill="#000"/><rect x="145" y="177" width="10" height="10" fill="#000"/><rect x="135.5" y="192.5" width="10" height="10" fill="#000"/></mask></defs>
<g clip-path="url(#ca)"><path d="M119.0 77.0 123.0 77.7 127.0 78.4 131.0 79.1 134.9 79.9 138.8 80.9 142.8 81.9 146.7 83.0 150.6 84.0 154.5 84.9 158.4 85.5 162.4 85.6 166.4 85.3 170.4 84.6 174.4 83.9 178.4 83.3 182.4 82.8 186.4 82.4 190.4 82.1 194.5 81.7 198.5 81.4 198.5 81.4M102.3 98.5 106.2 97.4 110.1 96.4 114.1 95.7 118.1 95.2 122.1 95.0 126.2 95.0 130.2 95.4 134.1 96.2 137.9 97.4 141.5 99.1 145.1 101.0 148.6 102.9 152.2 104.7 156.0 106.1 159.8 107.0 163.8 107.4 167.8 107.2 171.8 106.9 175.9 106.6 179.9 106.2 184.0 105.9 188.0 105.5 192.0 105.1 196.1 104.7 200.1 104.4 204.2 104.0 208.2 103.6 208.2 103.6M91.9 126.0 95.2 123.7 98.6 121.5 102.1 119.6 105.8 118.0 109.5 116.7 113.4 115.8 117.3 115.4 121.3 115.4 125.2 116.0 129.1 116.8 132.9 118.1 136.6 119.7 140.2 121.5 143.7 123.4 147.3 125.3 150.8 127.2 154.5 128.7 158.3 129.9 162.2 130.8 166.2 131.3 170.2 131.5 174.2 131.5 178.3 131.3 182.3 131.1 186.3 130.8 190.3 130.5 194.4 130.2 198.4 129.8 202.3 129.1 206.3 128.3 210.2 127.4 214.1 126.3 218.0 125.3 218.0 125.3M86.9 168.2 90.5 166.4 94.0 164.5 97.4 162.3 100.6 159.9 103.8 157.4 107.0 154.9 110.1 152.4 113.4 150.2 116.9 148.3 120.6 146.9 124.5 146.0 128.4 145.6 132.3 145.8 136.2 146.5 140.1 147.3 144.1 148.1 148.1 148.6 152.1 149.0 156.1 149.2 160.1 149.5 164.2 149.7 168.2 150.0 172.2 150.3 176.2 150.6 180.3 150.8 184.3 150.8 188.3 150.6 192.3 150.2 196.3 149.7 200.3 149.1 204.3 148.6 208.3 147.9 212.2 147.1 216.2 146.2 220.1 145.4 224.0 144.5 226.0 144.0M86.5 189.5 90.1 187.6 93.6 185.8 97.2 184.0 100.7 182.1 104.3 180.3 107.9 178.6 111.5 176.8 115.1 175.1 118.8 173.6 122.6 172.3 126.4 171.0 130.2 169.9 134.1 168.9 138.0 168.1 141.9 167.5 145.9 167.0 149.9 166.4 153.8 166.0 157.8 165.6 161.8 165.4 165.8 165.4 169.8 165.5 173.8 165.8 177.8 166.0 181.8 166.2 185.8 166.4 189.8 166.6 193.8 166.7 197.7 166.5 201.7 166.2 205.7 166.0 209.7 165.8 213.7 165.6 217.7 165.4 221.7 165.1 225.7 164.9 229.7 164.7 233.7 164.4 235.7 164.3M86.0 206.0 89.8 204.7 93.6 203.3 97.5 202.0 101.3 200.7 105.0 199.3 108.5 197.5 112.0 195.5 115.6 193.5 119.2 191.8 122.9 190.1 126.6 188.5 130.3 187.0 134.1 185.4 137.8 184.0 141.6 182.9 145.5 182.3 149.5 182.1 153.6 182.0 157.6 182.0 161.7 182.0 165.7 182.0 169.7 182.0 173.8 182.0 177.8 182.1 181.8 182.3 185.8 182.7 189.8 183.4 193.8 184.1 197.8 184.7 201.8 185.1 205.8 185.4 209.8 185.7 213.9 186.0 217.9 186.3 221.9 186.7 225.9 187.1 229.9 187.6 233.9 188.2 237.9 189.0 241.9 189.8 245.8 190.6 247.8 191.0M86.0 222.8 89.6 221.1 93.3 219.5 97.0 217.8 100.6 216.2 104.3 214.5 107.9 212.9 111.6 211.2 115.1 209.4 118.6 207.4 122.0 205.2 125.3 203.0 128.6 201.0 132.2 199.6 135.9 198.8 139.9 198.6 143.8 198.8 147.7 199.5 151.3 200.8 154.5 202.8 157.3 205.4 159.7 208.5 161.4 211.9 162.4 215.6 162.7 219.5 162.5 223.4 162.3 227.4 162.4 231.3 162.9 235.2 164.0 239.0 165.6 242.5 167.7 245.8 167.7 245.8M87.3 252.6 91.0 251.0 94.7 249.7 98.6 249.0 102.5 248.9 106.3 249.4 110.0 250.6 113.4 252.4 116.3 255.0 118.9 257.9 118.9 257.9" fill="none" stroke="#111" stroke-width="1.6" stroke-linejoin="round" stroke-linecap="round" mask="url(#mca)"/></g>
<text x="157.6" y="89.2" text-anchor="middle" class="cl">65</text>
<text x="165.8" y="110.7" text-anchor="middle" class="cl">60</text>
<text x="183.4" y="134.2" text-anchor="middle" class="cl">55</text>
<text x="179" y="154.2" text-anchor="middle" class="cl">50</text>
<text x="202" y="169.2" text-anchor="middle" class="cl">45</text>
<text x="150" y="185.2" text-anchor="middle" class="cl">40</text>
<text x="140.5" y="200.7" text-anchor="middle" class="cl">35</text>
<path d="M165.6 109.8l3.6 3.6M165.6 113.4l3.6 -3.6M159.2 115.2l3.6 3.6M159.2 118.8l3.6 -3.6M139.0 131.0l3.6 3.6M139.0 134.6l3.6 -3.6M146.2 129.3l3.6 3.6M146.2 132.9l3.6 -3.6M150.5 127.1l3.6 3.6M150.5 130.7l3.6 -3.6M155.9 128.2l3.6 3.6M155.9 131.8l3.6 -3.6M162.4 128.2l3.6 3.6M162.4 131.8l3.6 -3.6M153.3 139.0l3.6 3.6M153.3 142.6l3.6 -3.6M125.6 144.0l3.6 3.6M125.6 147.6l3.6 -3.6M126.7 154.2l3.6 3.6M126.7 157.8l3.6 -3.6M132.1 154.2l3.6 3.6M132.1 157.8l3.6 -3.6M126.7 157.8l3.6 3.6M126.7 161.4l3.6 -3.6M132.1 159.6l3.6 3.6M132.1 163.2l3.6 -3.6M121.3 160.6l3.6 3.6M121.3 164.2l3.6 -3.6M142.5 161.3l3.6 3.6M142.5 164.9l3.6 -3.6M125.2 165.0l3.6 3.6M125.2 168.6l3.6 -3.6M124.6 166.8l3.6 3.6M124.6 170.4l3.6 -3.6M120.2 176.6l3.6 3.6M120.2 180.2l3.6 -3.6M110.9 186.3l3.6 3.6M110.9 189.9l3.6 -3.6M110.5 196.0l3.6 3.6M110.5 199.6l3.6 -3.6M121.1 198.9h4M123.1 196.9v4M136.2 181.6h4M138.2 179.6v4M146.0 189.2h4M148.0 187.2v4M150.3 197.8h4M152.3 195.8v4M119.0 204.3h4M121.0 202.3v4M126.5 204.3h4M128.5 202.3v4M133.0 209.7h4M135.0 207.7v4M140.6 207.6h4M142.6 205.6v4M123.3 215.1h4M125.3 213.1v4M120.0 218.4h4M122.0 216.4v4M126.5 217.3h4M128.5 215.3v4M115.7 222.7h4M117.7 220.7v4M138.4 218.4h4M140.4 216.4v4M150.3 215.1h4M152.3 213.1v4M151.4 221.6h4M153.4 219.6v4M124.4 232.4h4M126.4 230.4v4M129.0 212.0h4M131.0 210.0v4M117.0 210.0h4M119.0 208.0v4M132.0 222.0h4M134.0 220.0v4M144.0 214.0h4M146.0 212.0v4M122.0 226.0h4M124.0 224.0v4M166.1 206.2h4M168.1 204.2v4M175.3 200.8h4M177.3 198.8v4M172.6 205.1h4M174.6 203.1v4M174.8 210.0h4M176.8 208.0v4M179.1 205.1h4M181.1 203.1v4M186.6 206.8h4M188.6 204.8v4M181.2 213.2h4M183.2 211.2v4M167.2 216.0h4M169.2 214.0v4M171.5 208.9h4M173.5 206.9v4" fill="none" stroke="#10102a" stroke-width="1.4" filter="url(#bl)"/>
<path d="M133.4 104.1L135.4 100.4L137.4 104.1ZM119.0 118.6L121.0 114.9L123.0 118.6ZM124.4 118.6L126.4 114.9L128.4 118.6ZM123.3 124.0L125.3 120.3L127.3 124.0ZM126.5 123.0L128.5 119.3L130.5 123.0ZM127.6 125.1L129.6 121.4L131.6 125.1ZM107.7 127.3L109.7 123.6L111.7 127.3ZM114.6 131.0L116.6 127.3L118.6 131.0ZM112.9 134.8L114.9 131.1L116.9 134.8ZM116.4 135.9L118.4 132.2L120.4 135.9ZM111.4 138.1L113.4 134.4L115.4 138.1ZM102.7 142.4L104.7 138.7L106.7 142.4ZM106.0 142.4L108.0 138.7L110.0 142.4ZM109.2 141.8L111.2 138.1L113.2 141.8ZM110.7 143.5L112.7 139.8L114.7 143.5ZM104.9 148.2L106.9 144.5L108.9 148.2ZM112.5 145.2L114.5 141.5L116.5 145.2ZM112.0 156.0L114.0 152.3L116.0 156.0ZM110.3 163.0L112.3 159.3L114.3 163.0ZM109.2 169.4L111.2 165.7L113.2 169.4ZM98.4 171.3L100.4 167.6L102.4 171.3ZM101.2 171.3L103.2 167.6L105.2 171.3ZM103.8 171.3L105.8 167.6L107.8 171.3ZM96.9 180.0L98.9 176.3L100.9 180.0ZM103.4 180.0L105.4 176.3L107.4 180.0ZM109.2 164.2L111.2 160.5L113.2 164.2Z" fill="none" stroke="#10102a" stroke-width="1.1" filter="url(#bl)"/>
<path d="M109.3 168.6a1.9 1.9 0 1 0 3.8 0a1.9 1.9 0 1 0 -3.8 0M110.4 172.0a1.9 1.9 0 1 0 3.8 0a1.9 1.9 0 1 0 -3.8 0M109.3 179.5a1.9 1.9 0 1 0 3.8 0a1.9 1.9 0 1 0 -3.8 0M113.6 179.5a1.9 1.9 0 1 0 3.8 0a1.9 1.9 0 1 0 -3.8 0M115.8 179.5a1.9 1.9 0 1 0 3.8 0a1.9 1.9 0 1 0 -3.8 0M105.0 184.9a1.9 1.9 0 1 0 3.8 0a1.9 1.9 0 1 0 -3.8 0M107.2 198.9a1.9 1.9 0 1 0 3.8 0a1.9 1.9 0 1 0 -3.8 0M97.4 204.3a1.9 1.9 0 1 0 3.8 0a1.9 1.9 0 1 0 -3.8 0M99.6 207.6a1.9 1.9 0 1 0 3.8 0a1.9 1.9 0 1 0 -3.8 0M127.7 208.6a1.9 1.9 0 1 0 3.8 0a1.9 1.9 0 1 0 -3.8 0" fill="none" stroke="#10102a" stroke-width="1.4" filter="url(#bl)"/>
<defs><mask id="mcb" maskUnits="userSpaceOnUse" x="0" y="0" width="751" height="370"><rect width="751" height="370" fill="#fff"/><rect x="548.2" y="64.2" width="10" height="10" fill="#000"/><rect x="514" y="71.6" width="10" height="10" fill="#000"/><rect x="514.5" y="86" width="10" height="10" fill="#000"/><rect x="514.5" y="101" width="10" height="10" fill="#000"/><rect x="517.5" y="118.6" width="10" height="10" fill="#000"/><rect x="528" y="136.4" width="10" height="10" fill="#000"/><rect x="532" y="149" width="10" height="10" fill="#000"/><rect x="538" y="161" width="10" height="10" fill="#000"/><rect x="536.5" y="174" width="10" height="10" fill="#000"/><rect x="532" y="188.6" width="10" height="10" fill="#000"/><rect x="510" y="207.3" width="10" height="10" fill="#000"/><rect x="479" y="233" width="10" height="10" fill="#000"/></mask></defs>
<g clip-path="url(#cb)"><path d="M530.0 64.2 534.1 64.6 538.2 65.2 542.2 66.0 546.2 67.0 550.1 68.1 554.1 69.2 558.1 70.3 562.0 71.5 565.9 72.7 569.8 74.1 573.6 75.7 577.3 77.5 581.0 79.3 581.0 79.3M488.0 89.0 491.3 86.7 494.7 84.4 498.2 82.3 501.7 80.4 505.5 78.9 509.3 77.8 513.3 77.1 517.3 76.8 521.3 76.8 525.3 77.1 529.3 77.8 533.2 78.8 537.1 80.0 541.0 81.2 544.9 82.3 548.8 83.6 552.6 84.8 556.4 86.2 560.2 87.8 563.9 89.4 567.6 91.0 571.4 92.6 575.1 94.3 578.7 96.1 582.4 97.9 585.9 99.8 589.5 101.7 591.3 102.7M473.0 135.0 475.9 132.2 478.6 129.3 481.1 126.2 483.3 122.8 485.4 119.4 487.4 115.9 489.3 112.3 491.4 109.0 493.8 105.8 496.6 102.9 499.5 100.2 502.7 97.7 505.9 95.4 509.4 93.5 513.1 92.1 517.0 91.3 520.9 91.1 524.9 91.3 528.8 92.0 532.7 92.9 536.5 94.1 540.4 95.4 544.2 96.7 548.0 97.9 551.8 99.3 555.6 100.7 559.3 102.1 563.1 103.6 566.9 105.0 570.6 106.5 574.2 108.2 577.8 110.1 581.2 112.2 584.5 114.5 587.8 116.8 591.1 119.2 594.3 121.7 597.4 124.2 599.0 125.4M470.0 157.5 473.1 155.0 476.2 152.3 479.0 149.5 481.5 146.4 483.8 143.1 485.9 139.7 487.9 136.2 489.8 132.7 491.8 129.1 493.8 125.6 495.9 122.2 498.1 118.8 500.5 115.6 503.2 112.7 506.1 110.1 509.5 108.3 513.2 107.1 517.1 106.5 521.1 106.3 525.1 106.5 529.1 107.0 533.0 107.9 536.8 109.0 540.6 110.3 544.4 111.7 548.2 113.1 552.0 114.6 555.8 115.9 559.6 117.3 563.3 118.7 567.1 120.1 570.8 121.6 574.4 123.4 577.9 125.4 581.3 127.5 584.7 129.7 588.0 132.0 591.2 134.4 594.4 136.9 597.6 139.4 600.7 141.9 603.9 144.5 607.0 147.0 607.0 147.0M469.0 171.5 472.3 169.2 475.6 166.9 478.7 164.4 481.8 161.8 484.6 158.9 487.3 155.9 489.8 152.8 492.3 149.6 494.8 146.4 497.3 143.3 499.7 140.1 502.0 136.9 504.2 133.5 506.5 130.4 509.2 127.7 512.5 125.8 516.2 124.5 520.0 123.9 524.0 123.8 528.0 124.0 532.0 124.4 535.9 125.1 539.9 126.0 543.8 127.0 547.6 128.1 551.5 129.3 555.3 130.5 559.2 131.7 563.0 133.0 566.8 134.3 570.5 135.7 574.2 137.4 577.6 139.4 581.0 141.6 584.3 143.9 587.5 146.3 590.6 148.9 593.6 151.5 596.7 154.2 599.7 156.9 602.7 159.5 605.6 162.3 608.6 165.0 611.4 167.9 614.0 171.0 616.4 174.1 618.8 177.4 620.0 179.0M467.4 183.4 470.8 181.2 474.1 179.0 477.4 176.7 480.6 174.2 483.7 171.6 486.7 169.0 489.7 166.3 492.7 163.6 495.8 161.0 499.0 158.5 502.1 156.0 505.4 153.6 508.7 151.3 512.0 149.0 515.5 147.0 519.1 145.3 522.8 143.8 526.6 142.7 530.6 142.1 534.5 141.7 538.6 141.6 542.6 141.7 546.6 142.0 550.5 142.6 554.4 143.6 558.3 144.7 562.1 145.9 566.0 147.1 569.7 148.5 573.2 150.3 576.5 152.5 579.6 155.0 582.6 157.7 585.7 160.3 588.8 162.8 591.9 165.4 594.8 168.1 597.6 171.0 600.3 174.0 602.9 177.1 605.4 180.3 607.9 183.4 610.4 186.6 613.0 189.7 615.5 192.9 618.0 196.0 618.0 196.0M467.0 193.2 470.6 191.5 474.2 189.7 477.9 188.0 481.4 186.2 484.9 184.2 488.2 182.0 491.4 179.6 494.6 177.1 497.7 174.6 500.9 172.1 504.1 169.7 507.3 167.3 510.5 164.9 513.8 162.6 517.2 160.5 520.7 158.5 524.3 156.9 528.0 155.6 531.9 154.6 535.8 154.1 539.8 153.8 543.8 153.7 547.7 154.0 551.6 154.7 555.3 155.9 559.0 157.5 562.7 159.1 566.3 160.9 569.8 162.8 573.2 164.8 576.5 167.1 579.6 169.6 582.5 172.3 585.3 175.2 588.0 178.2 590.4 181.4 592.7 184.7 595.0 187.9 597.4 191.2 599.9 194.3 602.5 197.4 605.1 200.4 607.7 203.5 609.0 205.0M465.0 202.4 469.0 201.8 472.9 201.1 476.6 200.2 480.2 198.6 483.5 196.5 486.6 194.1 489.7 191.6 492.8 189.1 495.9 186.6 499.1 184.2 502.3 181.8 505.6 179.5 509.0 177.3 512.4 175.3 515.9 173.4 519.5 171.6 523.1 170.0 526.8 168.6 530.7 167.4 534.5 166.6 538.5 166.1 542.4 166.0 546.4 166.2 550.3 166.7 554.1 167.7 557.9 168.9 561.5 170.5 565.0 172.4 568.2 174.7 571.3 177.1 574.4 179.7 577.2 182.5 579.9 185.5 582.4 188.6 584.7 191.8 586.9 195.2 588.8 198.6 590.7 202.2 592.6 205.7 594.6 209.1 596.8 212.4 598.0 214.0M463.8 210.8 467.7 209.7 471.6 208.6 475.4 207.4 479.3 206.0 483.0 204.5 486.6 202.8 490.1 200.8 493.4 198.5 496.6 196.0 499.8 193.6 503.1 191.2 506.5 189.0 510.0 187.0 513.6 185.2 517.3 183.7 521.1 182.4 525.0 181.2 528.9 180.2 532.9 179.5 536.9 179.0 540.9 178.8 544.9 178.9 548.9 179.4 552.7 180.3 556.5 181.6 560.2 183.3 563.7 185.2 566.9 187.6 570.0 190.1 573.0 192.9 575.8 195.8 578.4 198.9 580.8 202.1 583.0 205.5 585.0 208.9 586.8 212.6 588.4 216.3 590.0 220.0 590.0 220.0M462.9 220.5 466.8 219.3 470.7 218.1 474.5 216.9 478.4 215.6 482.2 214.3 486.0 212.9 489.7 211.3 493.4 209.6 497.0 207.8 500.6 205.8 504.0 203.7 507.5 201.6 511.0 199.6 514.6 197.9 518.4 196.5 522.2 195.3 526.2 194.4 530.2 193.8 534.2 193.6 538.2 193.6 542.2 193.9 546.0 194.9 549.6 196.5 553.0 198.6 556.3 200.9 559.6 203.0 563.1 205.0 566.5 207.1 569.4 209.5 571.8 212.6 573.7 216.0 575.5 219.7 577.3 223.3 579.0 227.0 579.0 227.0M460.9 230.2 464.7 228.9 468.5 227.7 472.3 226.4 476.1 225.1 480.0 223.9 483.8 222.6 487.5 221.2 491.3 219.8 495.0 218.3 498.8 216.9 502.5 215.5 506.3 214.3 510.2 213.3 514.1 212.7 518.1 212.5 522.1 212.7 526.0 213.2 529.9 214.0 533.7 215.2 537.4 216.7 541.1 218.4 544.6 220.2 547.9 222.4 550.9 224.9 553.6 227.8 556.3 230.8 558.8 233.9 561.4 237.0 561.4 237.0M460.1 241.6 464.2 241.0 468.2 240.5 472.3 239.9 476.3 239.3 480.4 238.8 484.4 238.3 488.4 238.2 492.4 238.4 496.4 239.3 500.1 240.6 503.8 242.3 507.5 244.0 511.3 245.6 515.1 246.9 519.0 248.1 523.0 249.1 527.0 249.9 531.0 250.7 535.0 251.5 535.0 251.5M458.0 255.0 462.0 255.9 466.0 257.0 469.9 258.3 473.7 259.9 477.4 261.7 481.1 263.5 484.8 265.4 488.4 267.3 492.1 269.3 495.7 271.3 499.2 273.4 501.0 274.5" fill="none" stroke="#111" stroke-width="1.6" stroke-linejoin="round" stroke-linecap="round" mask="url(#mcb)"/></g>
<text x="553.2" y="72.4" text-anchor="middle" class="cl">95</text>
<text x="519" y="79.8" text-anchor="middle" class="cl">90</text>
<text x="519.5" y="94.2" text-anchor="middle" class="cl">85</text>
<text x="519.5" y="109.2" text-anchor="middle" class="cl">80</text>
<text x="522.5" y="126.8" text-anchor="middle" class="cl">75</text>
<text x="533" y="144.6" text-anchor="middle" class="cl">70</text>
<text x="537" y="157.2" text-anchor="middle" class="cl">65</text>
<text x="543" y="169.2" text-anchor="middle" class="cl">60</text>
<text x="541.5" y="182.2" text-anchor="middle" class="cl">55</text>
<text x="537" y="196.79999999999998" text-anchor="middle" class="cl">50</text>
<text x="515" y="215.5" text-anchor="middle" class="cl">45</text>
<text x="484" y="241.2" text-anchor="middle" class="cl">40</text>
<path d="M512.9 117.9l3.6 3.6M512.9 121.5l3.6 -3.6M532.8 131.7l3.6 3.6M532.8 135.3l3.6 -3.6M496.7 142.1l3.6 3.6M496.7 145.7l3.6 -3.6M502.1 140.0l3.6 3.6M502.1 143.6l3.6 -3.6M512.5 140.0l3.6 3.6M512.5 143.6l3.6 -3.6M517.2 136.7l3.6 3.6M517.2 140.3l3.6 -3.6M521.2 138.9l3.6 3.6M521.2 142.5l3.6 -3.6M515.1 144.3l3.6 3.6M515.1 147.9l3.6 -3.6M518.3 145.4l3.6 3.6M518.3 149.0l3.6 -3.6M514.0 147.5l3.6 3.6M514.0 151.1l3.6 -3.6M508.6 152.5l3.6 3.6M508.6 156.1l3.6 -3.6M502.1 158.3l3.6 3.6M502.1 161.9l3.6 -3.6M493.5 154.7l3.6 3.6M493.5 158.3l3.6 -3.6M499.5 163.3l3.6 3.6M499.5 166.9l3.6 -3.6M488.1 168.1l3.6 3.6M488.1 171.7l3.6 -3.6M495.6 172.4l3.6 3.6M495.6 176.0l3.6 -3.6M506.4 180.0l3.6 3.6M506.4 183.6l3.6 -3.6M487.0 172.4l3.6 3.6M487.0 176.0l3.6 -3.6M479.8 191.6l3.6 3.6M479.8 195.2l3.6 -3.6M484.2 188.3l3.6 3.6M484.2 191.9l3.6 -3.6M488.5 182.9l3.6 3.6M488.5 186.5l3.6 -3.6M505.8 181.8l3.6 3.6M505.8 185.4l3.6 -3.6M497.1 188.3l3.6 3.6M497.1 191.9l3.6 -3.6M485.2 197.0l3.6 3.6M485.2 200.6l3.6 -3.6M493.9 201.3l3.6 3.6M493.9 204.9l3.6 -3.6M488.3 223.6h4M490.3 221.6v4M501.2 226.9h4M503.2 224.9v4M504.5 229.1h4M506.5 227.1v4M509.9 224.7h4M511.9 222.7v4M513.1 221.5h4M515.1 219.5v4M517.5 225.8h4M519.5 223.8v4M528.3 223.6h4M530.3 221.6v4M533.7 222.6h4M535.7 220.6v4M529.4 230.1h4M531.4 228.1v4M525.0 234.5h4M527.0 232.5v4M487.2 233.4h4M489.2 231.4v4M499.1 233.4h4M501.1 231.4v4M498.0 238.8h4M500.0 236.8v4M492.6 246.4h4M494.6 244.4v4M538.5 200.4h4M540.5 198.4v4M552.6 205.8h4M554.6 203.8v4M555.8 206.4h4M557.8 204.4v4M544.0 209.6h4M546.0 207.6v4M540.2 212.8h4M542.2 210.8v4M555.8 211.8h4M557.8 209.8v4M545.0 217.7h4M547.0 215.7v4M528.8 223.6h4M530.8 221.6v4M534.2 222.6h4M536.2 220.6v4M535.8 226.9h4M537.8 224.9v4M541.2 228.0h4M543.2 226.0v4M518.5 225.3h4M520.5 223.3v4" fill="none" stroke="#10102a" stroke-width="1.4" filter="url(#bl)"/>
<path d="M495.4 128.2L497.4 124.5L499.4 128.2ZM494.4 132.1L496.4 128.4L498.4 132.1ZM497.2 132.6L499.2 128.9L501.2 132.6ZM487.9 140.1L489.9 136.4L491.9 140.1ZM489.0 143.4L491.0 139.7L493.0 143.4ZM495.4 142.3L497.4 138.6L499.4 142.3ZM480.3 147.7L482.3 144.0L484.3 147.7ZM479.2 150.9L481.2 147.2L483.2 150.9ZM486.8 150.9L488.8 147.2L490.8 150.9ZM481.4 156.3L483.4 152.6L485.4 156.3ZM487.9 155.9L489.9 152.2L491.9 155.9ZM478.1 163.2L480.1 159.5L482.1 163.2ZM477.0 165.4L479.0 161.7L481.0 165.4ZM483.5 165.0L485.5 161.3L487.5 165.0ZM474.9 171.5L476.9 167.8L478.9 171.5ZM480.3 171.5L482.3 167.8L484.3 171.5ZM472.7 179.0L474.7 175.3L476.7 179.0ZM477.0 182.3L479.0 178.6L481.0 182.3ZM469.5 182.3L471.5 178.6L473.5 182.3ZM469.9 179.8L471.9 176.1L473.9 179.8ZM473.1 183.1L475.1 179.4L477.1 183.1ZM471.0 188.5L473.0 184.8L475.0 188.5ZM472.1 192.8L474.1 189.1L476.1 192.8Z" fill="none" stroke="#10102a" stroke-width="1.1" filter="url(#bl)"/>
<path d="M467.8 211.8a1.9 1.9 0 1 0 3.8 0a1.9 1.9 0 1 0 -3.8 0M471.1 215.0a1.9 1.9 0 1 0 3.8 0a1.9 1.9 0 1 0 -3.8 0M468.9 217.2a1.9 1.9 0 1 0 3.8 0a1.9 1.9 0 1 0 -3.8 0M484.1 216.1a1.9 1.9 0 1 0 3.8 0a1.9 1.9 0 1 0 -3.8 0M495.9 207.4a1.9 1.9 0 1 0 3.8 0a1.9 1.9 0 1 0 -3.8 0M503.5 206.4a1.9 1.9 0 1 0 3.8 0a1.9 1.9 0 1 0 -3.8 0M504.6 209.6a1.9 1.9 0 1 0 3.8 0a1.9 1.9 0 1 0 -3.8 0M498.1 216.1a1.9 1.9 0 1 0 3.8 0a1.9 1.9 0 1 0 -3.8 0M503.5 215.0a1.9 1.9 0 1 0 3.8 0a1.9 1.9 0 1 0 -3.8 0M473.2 222.6a1.9 1.9 0 1 0 3.8 0a1.9 1.9 0 1 0 -3.8 0M477.6 222.6a1.9 1.9 0 1 0 3.8 0a1.9 1.9 0 1 0 -3.8 0M480.8 225.8a1.9 1.9 0 1 0 3.8 0a1.9 1.9 0 1 0 -3.8 0M493.8 223.6a1.9 1.9 0 1 0 3.8 0a1.9 1.9 0 1 0 -3.8 0M470.0 232.3a1.9 1.9 0 1 0 3.8 0a1.9 1.9 0 1 0 -3.8 0M476.5 234.5a1.9 1.9 0 1 0 3.8 0a1.9 1.9 0 1 0 -3.8 0M493.8 217.2a1.9 1.9 0 1 0 3.8 0a1.9 1.9 0 1 0 -3.8 0" fill="none" stroke="#10102a" stroke-width="1.4" filter="url(#bl)"/>
<rect x="129" y="177.4" width="3.2" height="3.2" fill="#e8ffff"/><rect x="498.5" y="190.8" width="3.2" height="3.2" fill="#e8ffff"/>
<path d="M60.0 50.0H302.0V308.5H60.0Z" fill="none" stroke="#707070" stroke-width="1.6"/>
<text x="60.0" y="334.0" text-anchor="middle" class="tk">0</text>
<text transform="translate(44.2 308.5) rotate(-90)" text-anchor="middle" class="tk">0</text>
<text x="108.4" y="334.0" text-anchor="middle" class="tk">10</text>
<text transform="translate(44.2 256.8) rotate(-90)" text-anchor="middle" class="tk">10</text>
<text x="156.8" y="334.0" text-anchor="middle" class="tk">20</text>
<text transform="translate(44.2 205.1) rotate(-90)" text-anchor="middle" class="tk">20</text>
<text x="205.2" y="334.0" text-anchor="middle" class="tk">30</text>
<text transform="translate(44.2 153.4) rotate(-90)" text-anchor="middle" class="tk">30</text>
<text x="253.6" y="334.0" text-anchor="middle" class="tk">40</text>
<text transform="translate(44.2 101.7) rotate(-90)" text-anchor="middle" class="tk">40</text>
<text x="302.0" y="334.0" text-anchor="middle" class="tk">50</text>
<text transform="translate(44.2 50.0) rotate(-90)" text-anchor="middle" class="tk">50</text>
<path d="M53.0 308.5H60.0M60.0 308.5V315.5M53.0 256.8H60.0M108.4 308.5V315.5M53.0 205.1H60.0M156.8 308.5V315.5M53.0 153.4H60.0M205.2 308.5V315.5M53.0 101.7H60.0M253.6 308.5V315.5M53.0 50.0H60.0M302.0 308.5V315.5" stroke="#707070" stroke-width="1.6"/>
<path d="M268.8 308.5V237.8H302.0" fill="none" stroke="#707070" stroke-width="1.6"/>
<text x="278.40000000000003" y="232.8" class="dp">DP</text>
<circle cx="279.0" cy="252.20000000000002" r="3" fill="none" stroke="#222" stroke-width="1"/>
<text x="290.3" y="256.20000000000005" class="lg">1</text>
<path d="M275.2 269.40000000000003L279.0 262.8L282.8 269.40000000000003Z" fill="none" stroke="#222" stroke-width="1"/>
<text x="290.3" y="270.40000000000003" class="lg">2</text>
<path d="M275.0 280.6H283.0M279.0 276.6V284.6" stroke="#222" stroke-width="1"/>
<text x="290.3" y="284.6" class="lg">3</text>
<path d="M275.8 291.6L282.2 298.0M275.8 298.0L282.2 291.6" stroke="#222" stroke-width="1"/>
<text x="290.3" y="298.8" class="lg">4</text>
<path d="M446.4 51.0H687.7V309.6H446.4Z" fill="none" stroke="#707070" stroke-width="1.6"/>
<text x="446.4" y="335.1" text-anchor="middle" class="tk">0</text>
<text transform="translate(429.6 309.6) rotate(-90)" text-anchor="middle" class="tk">0</text>
<text x="494.7" y="335.1" text-anchor="middle" class="tk">10</text>
<text transform="translate(429.6 257.9) rotate(-90)" text-anchor="middle" class="tk">10</text>
<text x="542.9" y="335.1" text-anchor="middle" class="tk">20</text>
<text transform="translate(429.6 206.2) rotate(-90)" text-anchor="middle" class="tk">20</text>
<text x="591.2" y="335.1" text-anchor="middle" class="tk">30</text>
<text transform="translate(429.6 154.4) rotate(-90)" text-anchor="middle" class="tk">30</text>
<text x="639.4" y="335.1" text-anchor="middle" class="tk">40</text>
<text transform="translate(429.6 102.7) rotate(-90)" text-anchor="middle" class="tk">40</text>
<text x="687.7" y="335.1" text-anchor="middle" class="tk">50</text>
<text transform="translate(429.6 51.0) rotate(-90)" text-anchor="middle" class="tk">50</text>
<path d="M439.4 309.6H446.4M446.4 309.6V316.6M439.4 257.9H446.4M494.7 309.6V316.6M439.4 206.2H446.4M542.9 309.6V316.6M439.4 154.4H446.4M591.2 309.6V316.6M439.4 102.7H446.4M639.4 309.6V316.6M439.4 51.0H446.4M687.7 309.6V316.6" stroke="#707070" stroke-width="1.6"/>
<path d="M654.6 309.6V238.8H687.7" fill="none" stroke="#707070" stroke-width="1.6"/>
<text x="664.2" y="233.8" class="dp">DP</text>
<circle cx="664.8000000000001" cy="253.20000000000002" r="3" fill="none" stroke="#222" stroke-width="1"/>
<text x="676.1" y="257.20000000000005" class="lg">1</text>
<path d="M661.0000000000001 270.40000000000003L664.8000000000001 263.8L668.6 270.40000000000003Z" fill="none" stroke="#222" stroke-width="1"/>
<text x="676.1" y="271.40000000000003" class="lg">2</text>
<path d="M660.8000000000001 281.6H668.8000000000001M664.8000000000001 277.6V285.6" stroke="#222" stroke-width="1"/>
<text x="676.1" y="285.6" class="lg">3</text>
<path d="M661.6 292.6L668.0000000000001 299.0M661.6 299.0L668.0000000000001 292.6" stroke="#222" stroke-width="1"/>
<text x="676.1" y="299.8" class="lg">4</text>
<defs><linearGradient id="ga" x1="0" y1="0" x2="0" y2="1"><stop offset="0.0000" stop-color="#800000"/><stop offset="0.0312" stop-color="#9f0000"/><stop offset="0.0625" stop-color="#bf0000"/><stop offset="0.0938" stop-color="#df0000"/><stop offset="0.1250" stop-color="#ff0000"/><stop offset="0.1562" stop-color="#ff2000"/><stop offset="0.1875" stop-color="#ff4000"/><stop offset="0.2188" stop-color="#ff6000"/><stop offset="0.2500" stop-color="#ff8000"/><stop offset="0.2812" stop-color="#ff9f00"/><stop offset="0.3125" stop-color="#ffbf00"/><stop offset="0.3438" stop-color="#ffdf00"/><stop offset="0.3750" stop-color="#ffff00"/><stop offset="0.4062" stop-color="#dfff20"/><stop offset="0.4375" stop-color="#bfff40"/><stop offset="0.4688" stop-color="#9fff60"/><stop offset="0.5000" stop-color="#80ff80"/><stop offset="0.5312" stop-color="#60ff9f"/><stop offset="0.5625" stop-color="#40ffbf"/><stop offset="0.5938" stop-color="#20ffdf"/><stop offset="0.6250" stop-color="#00ffff"/><stop offset="0.6562" stop-color="#00dfff"/><stop offset="0.6875" stop-color="#00bfff"/><stop offset="0.7188" stop-color="#009fff"/><stop offset="0.7500" stop-color="#0080ff"/><stop offset="0.7812" stop-color="#0060ff"/><stop offset="0.8125" stop-color="#0040ff"/><stop offset="0.8438" stop-color="#0020ff"/><stop offset="0.8750" stop-color="#0000ff"/><stop offset="0.9062" stop-color="#0000df"/><stop offset="0.9375" stop-color="#0000bf"/><stop offset="0.9688" stop-color="#00009f"/><stop offset="1.0000" stop-color="#000080"/></linearGradient></defs>
<rect x="324" y="62.7" width="12.600000000000023" height="232.3" fill="url(#ga)" stroke="rgba(0,0,0,.35)" stroke-width="1"/>
<text x="350.6" y="68.9" class="cb">70</text>
<text x="350.6" y="124.9" class="cb">60</text>
<text x="350.6" y="180.9" class="cb">50</text>
<text x="350.6" y="237.3" class="cb">40</text>
<text x="350.6" y="292.7" class="cb">30</text>
<path d="M336.6 64H343.6M336.6 120H343.6M336.6 176H343.6M336.6 232.4H343.6M336.6 287.8H343.6" stroke="#707070" stroke-width="1.6"/>
<text x="323.5" y="57" class="mg">mg</text>
<defs><linearGradient id="gb" x1="0" y1="0" x2="0" y2="1"><stop offset="0.0000" stop-color="#800000"/><stop offset="0.0312" stop-color="#9f0000"/><stop offset="0.0625" stop-color="#bf0000"/><stop offset="0.0938" stop-color="#df0000"/><stop offset="0.1250" stop-color="#ff0000"/><stop offset="0.1562" stop-color="#ff2000"/><stop offset="0.1875" stop-color="#ff4000"/><stop offset="0.2188" stop-color="#ff6000"/><stop offset="0.2500" stop-color="#ff8000"/><stop offset="0.2812" stop-color="#ff9f00"/><stop offset="0.3125" stop-color="#ffbf00"/><stop offset="0.3438" stop-color="#ffdf00"/><stop offset="0.3750" stop-color="#ffff00"/><stop offset="0.4062" stop-color="#dfff20"/><stop offset="0.4375" stop-color="#bfff40"/><stop offset="0.4688" stop-color="#9fff60"/><stop offset="0.5000" stop-color="#80ff80"/><stop offset="0.5312" stop-color="#60ff9f"/><stop offset="0.5625" stop-color="#40ffbf"/><stop offset="0.5938" stop-color="#20ffdf"/><stop offset="0.6250" stop-color="#00ffff"/><stop offset="0.6562" stop-color="#00dfff"/><stop offset="0.6875" stop-color="#00bfff"/><stop offset="0.7188" stop-color="#009fff"/><stop offset="0.7500" stop-color="#0080ff"/><stop offset="0.7812" stop-color="#0060ff"/><stop offset="0.8125" stop-color="#0040ff"/><stop offset="0.8438" stop-color="#0020ff"/><stop offset="0.8750" stop-color="#0000ff"/><stop offset="0.9062" stop-color="#0000df"/><stop offset="0.9375" stop-color="#0000bf"/><stop offset="0.9688" stop-color="#00009f"/><stop offset="1.0000" stop-color="#000080"/></linearGradient></defs>
<rect x="709.6" y="63.8" width="13.0" height="232.59999999999997" fill="url(#gb)" stroke="rgba(0,0,0,.35)" stroke-width="1"/>
<text x="736.6" y="97.9" class="cb">90</text>
<text x="736.6" y="132.5" class="cb">80</text>
<text x="736.6" y="167.1" class="cb">70</text>
<text x="736.6" y="201.70000000000002" class="cb">60</text>
<text x="736.6" y="236.9" class="cb">50</text>
<text x="736.6" y="271.7" class="cb">40</text>
<path d="M722.6 93H729.6M722.6 127.6H729.6M722.6 162.2H729.6M722.6 196.8H729.6M722.6 232H729.6M722.6 266.8H729.6" stroke="#707070" stroke-width="1.6"/>
<text x="709.1" y="57" class="mg">mg</text>
</svg>
</body></html>
